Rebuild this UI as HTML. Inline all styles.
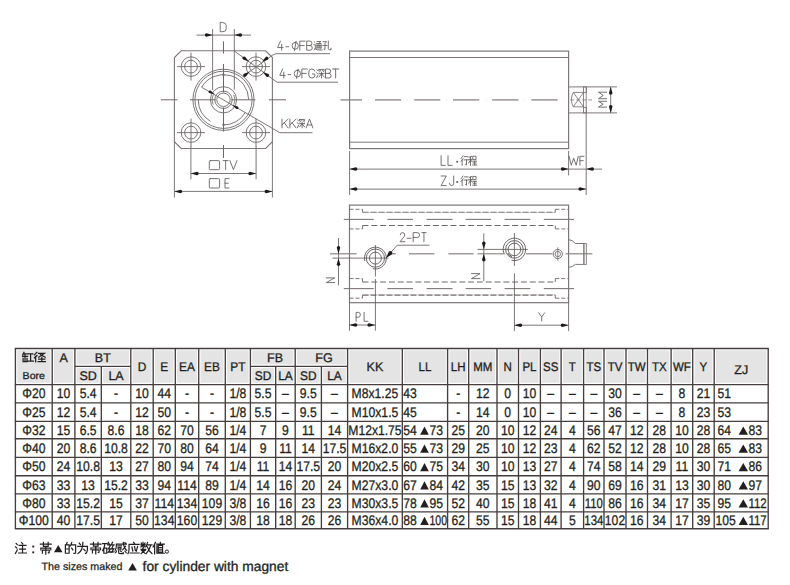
<!DOCTYPE html>
<html><head><meta charset="utf-8">
<style>
html,body{margin:0;padding:0;background:#fff;}
body{width:790px;height:585px;overflow:hidden;position:relative;}
svg{position:absolute;left:0;top:0;}
text{font-family:"Liberation Sans",sans-serif;text-rendering:geometricPrecision;}
</style></head><body>
<svg width="790" height="585" viewBox="0 0 790 585">
<rect width="790" height="585" fill="#fff"/>
<path d="M181.20000000000002,50.8 H265.59999999999997 L272.4,57.599999999999994 V141.7 L265.59999999999997,148.5 H181.20000000000002 L174.4,141.7 V57.599999999999994 Z" fill="none" stroke="#7d7877" stroke-width="1.1"/>
<circle cx="191.0" cy="66.6" r="9.8" fill="none" stroke="#7d7877" stroke-width="1.0"/>
<circle cx="191.0" cy="66.6" r="6.4" fill="none" stroke="#7d7877" stroke-width="1.0"/>
<line x1="177.0" y1="66.6" x2="205.0" y2="66.6" stroke="#6e6968" stroke-width="0.9"/>
<line x1="191.0" y1="52.599999999999994" x2="191.0" y2="80.6" stroke="#6e6968" stroke-width="0.9"/>
<circle cx="191.0" cy="132.6" r="9.8" fill="none" stroke="#7d7877" stroke-width="1.0"/>
<circle cx="191.0" cy="132.6" r="6.4" fill="none" stroke="#7d7877" stroke-width="1.0"/>
<line x1="177.0" y1="132.6" x2="205.0" y2="132.6" stroke="#6e6968" stroke-width="0.9"/>
<line x1="191.0" y1="118.6" x2="191.0" y2="146.6" stroke="#6e6968" stroke-width="0.9"/>
<circle cx="256.0" cy="66.6" r="9.8" fill="none" stroke="#7d7877" stroke-width="1.0"/>
<circle cx="256.0" cy="66.6" r="6.4" fill="none" stroke="#7d7877" stroke-width="1.0"/>
<line x1="242.0" y1="66.6" x2="270.0" y2="66.6" stroke="#6e6968" stroke-width="0.9"/>
<line x1="256.0" y1="52.599999999999994" x2="256.0" y2="80.6" stroke="#6e6968" stroke-width="0.9"/>
<circle cx="256.0" cy="132.6" r="9.8" fill="none" stroke="#7d7877" stroke-width="1.0"/>
<circle cx="256.0" cy="132.6" r="6.4" fill="none" stroke="#7d7877" stroke-width="1.0"/>
<line x1="242.0" y1="132.6" x2="270.0" y2="132.6" stroke="#6e6968" stroke-width="0.9"/>
<line x1="256.0" y1="118.6" x2="256.0" y2="146.6" stroke="#6e6968" stroke-width="0.9"/>
<circle cx="223.5" cy="99.8" r="30.6" fill="none" stroke="#7d7877" stroke-width="1.0"/>
<circle cx="223.5" cy="99.8" r="28.6" fill="none" stroke="#7d7877" stroke-width="1.0"/>
<path d="M201.68,87.20 A25.2,25.2 0 0 1 248.70,99.80" fill="none" stroke="#7d7877" stroke-width="1.0"/>
<path d="M245.32,112.40 A25.2,25.2 0 0 1 223.50,125.00" fill="none" stroke="#7d7877" stroke-width="1.0"/>
<path d="M210.52,121.40 A25.2,25.2 0 0 1 198.30,99.80" fill="none" stroke="#7d7877" stroke-width="1.0"/>
<circle cx="223.5" cy="99.8" r="13.1" fill="none" stroke="#7d7877" stroke-width="1.0"/>
<circle cx="223.5" cy="99.8" r="8.7" fill="none" stroke="#7d7877" stroke-width="1.0"/>
<circle cx="223.5" cy="99.8" r="6.7" fill="none" stroke="#7d7877" stroke-width="1.0"/>
<path d="M213.17,104.62 A11.4,11.4 0 0 1 213.17,94.98" fill="none" stroke="#7d7877" stroke-width="0.9"/>
<path d="M233.83,94.98 A11.4,11.4 0 0 1 233.83,104.62" fill="none" stroke="#7d7877" stroke-width="0.9"/>
<circle cx="223.5" cy="74.8" r="1.2" fill="#6e6968"/>
<circle cx="223.5" cy="124.8" r="1.2" fill="#6e6968"/>
<line x1="161" y1="99.8" x2="177.5" y2="99.8" stroke="#6e6968" stroke-width="1.0"/>
<line x1="190" y1="99.8" x2="215.8" y2="99.8" stroke="#6e6968" stroke-width="1.0"/>
<line x1="231.2" y1="99.8" x2="255.4" y2="99.8" stroke="#6e6968" stroke-width="1.0"/>
<line x1="269" y1="99.8" x2="286" y2="99.8" stroke="#6e6968" stroke-width="1.0"/>
<line x1="223.5" y1="41.3" x2="223.5" y2="53.6" stroke="#6e6968" stroke-width="1.0"/>
<line x1="223.5" y1="64" x2="223.5" y2="92.4" stroke="#6e6968" stroke-width="1.0"/>
<line x1="223.5" y1="107.4" x2="223.5" y2="131.5" stroke="#6e6968" stroke-width="1.0"/>
<line x1="223.5" y1="145" x2="223.5" y2="158" stroke="#6e6968" stroke-width="1.0"/>
<line x1="212.6" y1="29" x2="212.6" y2="90" stroke="#6e6968" stroke-width="0.9"/>
<line x1="234.3" y1="29" x2="234.3" y2="89.6" stroke="#6e6968" stroke-width="0.9"/>
<line x1="196.5" y1="35.1" x2="251" y2="35.1" stroke="#6e6968" stroke-width="0.9"/>
<path d="M212.60,35.10 L206.55,33.35 A1.75,1.75 0 0 0 206.55,36.85 Z" fill="#1e1a1a"/>
<path d="M234.30,35.10 L240.35,36.85 A1.75,1.75 0 0 0 240.35,33.35 Z" fill="#1e1a1a"/>
<g fill="none" stroke="#5f5a59" stroke-width="0.85" stroke-linecap="round" stroke-linejoin="round"><path transform="translate(220.20,22.60) scale(1.2000,1.0111)" d="M0,0 V9 H2.2 Q5,9 5,6.2 V2.8 Q5,0 2.2,0 Z" vector-effect="non-scaling-stroke"/></g>
<line x1="243.0" y1="76.4" x2="272.6" y2="55.1" stroke="#6e6968" stroke-width="0.9"/>
<line x1="272.6" y1="55.1" x2="276.0" y2="53.7" stroke="#6e6968" stroke-width="0.9"/>
<line x1="276.0" y1="53.7" x2="330.0" y2="53.7" stroke="#7d7877" stroke-width="1.0"/>
<path d="M262.00,61.80 L267.69,59.77 A1.70,1.70 0 0 0 265.69,57.02 Z" fill="#1e1a1a"/>
<path d="M249.60,71.80 L243.91,73.83 A1.70,1.70 0 0 0 245.91,76.58 Z" fill="#1e1a1a"/>
<g fill="none" stroke="#5f5a59" stroke-width="0.85" stroke-linecap="round" stroke-linejoin="round"><path transform="translate(277.50,41.10) scale(1.1200,1.0111)" d="M2.6,0 L0,6.4 H5 M3.7,3.2 V9" vector-effect="non-scaling-stroke"/><path transform="translate(285.80,41.10) scale(0.9333,1.0111)" d="M0,5.6 H3" vector-effect="non-scaling-stroke"/><path transform="translate(292.10,41.10) scale(1.1250,1.0111)" d="M2.8,1.2 Q5.6,1.2 5.6,4.6 Q5.6,8 2.8,8 Q0,8 0,4.6 Q0,1.2 2.8,1.2 Z M3.6,0.2 L2.0,9.4" vector-effect="non-scaling-stroke"/><path transform="translate(299.80,41.10) scale(1.1739,1.0111)" d="M4.6,0 H0 V9 M0,4.4 H3.8" vector-effect="non-scaling-stroke"/><path transform="translate(306.70,41.10) scale(1.1200,1.0111)" d="M0,4.4 H3 Q5,4.4 5,6.7 Q5,9 3,9 H0 V0 H2.8 Q4.7,0 4.7,2.2 Q4.7,4.4 2.8,4.4" vector-effect="non-scaling-stroke"/><path transform="translate(313.70,41.10) scale(1.0250,1.0111)" d="M0.4,0.6 L1.4,1.6 M0,3.6 H1.6 V7.4 L0.2,8.8 M1.2,7.8 Q2.6,9 8.2,8.9 M3.2,0.4 H7 L5.6,1.6 M3.2,2.4 V7.6 M3.2,2.4 H7.2 V7.2 L6.6,7.6 M3.2,4.4 H7.2 M3.2,6 H7.2 M5.2,2.4 V7.6" vector-effect="non-scaling-stroke"/><path transform="translate(322.70,41.10) scale(1.0375,1.0111)" d="M0.4,0.6 H3.6 L2.2,2.4 V8.4 L1.2,7.9 M0,4.4 H4.2 M5.4,0 V7.4 Q5.4,8.6 6.8,8.6 H8 V7" vector-effect="non-scaling-stroke"/></g>
<line x1="234.3" y1="51" x2="277.0" y2="82.2" stroke="#6e6968" stroke-width="0.9"/>
<line x1="277.0" y1="82.2" x2="338.0" y2="82.2" stroke="#7d7877" stroke-width="1.0"/>
<path d="M248.80,61.60 L245.11,56.82 A1.70,1.70 0 0 0 243.11,59.57 Z" fill="#1e1a1a"/>
<path d="M262.80,71.90 L266.49,76.68 A1.70,1.70 0 0 0 268.49,73.93 Z" fill="#1e1a1a"/>
<g fill="none" stroke="#5f5a59" stroke-width="0.85" stroke-linecap="round" stroke-linejoin="round"><path transform="translate(279.80,69.00) scale(1.0800,1.0000)" d="M2.6,0 L0,6.4 H5 M3.7,3.2 V9" vector-effect="non-scaling-stroke"/><path transform="translate(287.90,69.00) scale(0.9333,1.0000)" d="M0,5.6 H3" vector-effect="non-scaling-stroke"/><path transform="translate(294.20,69.00) scale(1.1250,1.0000)" d="M2.8,1.2 Q5.6,1.2 5.6,4.6 Q5.6,8 2.8,8 Q0,8 0,4.6 Q0,1.2 2.8,1.2 Z M3.6,0.2 L2.0,9.4" vector-effect="non-scaling-stroke"/><path transform="translate(301.90,69.00) scale(1.1739,1.0000)" d="M4.6,0 H0 V9 M0,4.4 H3.8" vector-effect="non-scaling-stroke"/><path transform="translate(308.80,69.00) scale(1.2000,1.0000)" d="M5,2.2 Q5,0 2.5,0 Q0,0 0,3 V6 Q0,9 2.5,9 Q5,9 5,6.5 V5 H3" vector-effect="non-scaling-stroke"/><path transform="translate(316.50,69.00) scale(0.9500,1.0000)" d="M0.4,0.8 L1.4,1.8 M0,3.6 L1,4.6 M0.2,8.8 L1.6,6 M2.6,0.4 H8 V1.8 M2.6,0.4 V1.8 M4.4,1.4 L3.2,3 M6.4,1.4 L7.6,3 M2.6,4.6 H8 M5.3,3.2 V9 M5.1,5 L2.6,8 M5.5,5 L8,8" vector-effect="non-scaling-stroke"/><path transform="translate(325.50,69.00) scale(1.1200,1.0000)" d="M0,4.4 H3 Q5,4.4 5,6.7 Q5,9 3,9 H0 V0 H2.8 Q4.7,0 4.7,2.2 Q4.7,4.4 2.8,4.4" vector-effect="non-scaling-stroke"/><path transform="translate(332.50,69.00) scale(1.2600,1.0000)" d="M0,0 H5 M2.5,0 V9" vector-effect="non-scaling-stroke"/></g>
<line x1="201.5" y1="87.2" x2="279.9" y2="132.7" stroke="#6e6968" stroke-width="0.9"/>
<line x1="279.9" y1="132.7" x2="312.5" y2="132.7" stroke="#7d7877" stroke-width="1.0"/>
<path d="M214.80,94.60 L210.51,90.62 A1.30,1.30 0 0 0 209.21,92.88 Z" fill="#1e1a1a"/>
<path d="M232.20,104.90 L236.49,108.88 A1.30,1.30 0 0 0 237.79,106.62 Z" fill="#1e1a1a"/>
<g fill="none" stroke="#5f5a59" stroke-width="0.85" stroke-linecap="round" stroke-linejoin="round"><path transform="translate(282.00,119.10) scale(1.2200,0.9778)" d="M0,0 V9 M5,0 L0,6 M1.9,3.8 L5,9" vector-effect="non-scaling-stroke"/><path transform="translate(289.90,119.10) scale(1.2200,0.9778)" d="M0,0 V9 M5,0 L0,6 M1.9,3.8 L5,9" vector-effect="non-scaling-stroke"/><path transform="translate(297.20,119.10) scale(0.9250,0.9778)" d="M0.4,0.8 L1.4,1.8 M0,3.6 L1,4.6 M0.2,8.8 L1.6,6 M2.6,0.4 H8 V1.8 M2.6,0.4 V1.8 M4.4,1.4 L3.2,3 M6.4,1.4 L7.6,3 M2.6,4.6 H8 M5.3,3.2 V9 M5.1,5 L2.6,8 M5.5,5 L8,8" vector-effect="non-scaling-stroke"/><path transform="translate(306.10,119.10) scale(1.3077,0.9778)" d="M0,9 L2.6,0 L5.2,9 M0.9,6 H4.3" vector-effect="non-scaling-stroke"/></g>
<line x1="190.9" y1="146" x2="190.9" y2="179.3" stroke="#6e6968" stroke-width="0.9"/>
<line x1="256.1" y1="146" x2="256.1" y2="179.3" stroke="#6e6968" stroke-width="0.9"/>
<line x1="174.4" y1="141.7" x2="174.4" y2="197.5" stroke="#6e6968" stroke-width="0.9"/>
<line x1="272.4" y1="141.7" x2="272.4" y2="197.5" stroke="#6e6968" stroke-width="0.9"/>
<line x1="190.9" y1="173.5" x2="256.1" y2="173.5" stroke="#6e6968" stroke-width="0.9"/>
<path d="M190.90,173.50 L196.95,175.25 A1.75,1.75 0 0 0 196.95,171.75 Z" fill="#1e1a1a"/>
<path d="M256.10,173.50 L250.05,171.75 A1.75,1.75 0 0 0 250.05,175.25 Z" fill="#1e1a1a"/>
<line x1="174.4" y1="191.4" x2="272.4" y2="191.4" stroke="#6e6968" stroke-width="0.9"/>
<path d="M174.40,191.40 L180.45,193.15 A1.75,1.75 0 0 0 180.45,189.65 Z" fill="#1e1a1a"/>
<path d="M272.40,191.40 L266.35,189.65 A1.75,1.75 0 0 0 266.35,193.15 Z" fill="#1e1a1a"/>
<g fill="none" stroke="#5f5a59" stroke-width="0.85" stroke-linecap="round" stroke-linejoin="round"><path transform="translate(209.30,160.60) scale(1.0300,1.0111)" d="M1,0 H9 Q10,0 10,1 V8 Q10,9 9,9 H1 Q0,9 0,8 V1 Q0,0 1,0 Z" vector-effect="non-scaling-stroke"/><path transform="translate(223.20,160.60) scale(0.9800,1.0111)" d="M0,0 H5 M2.5,0 V9" vector-effect="non-scaling-stroke"/><path transform="translate(229.90,160.60) scale(1.4200,1.0111)" d="M0,0 L2.5,9 L5,0" vector-effect="non-scaling-stroke"/></g>
<g fill="none" stroke="#5f5a59" stroke-width="0.85" stroke-linecap="round" stroke-linejoin="round"><path transform="translate(209.30,178.60) scale(1.0300,1.0444)" d="M1,0 H9 Q10,0 10,1 V8 Q10,9 9,9 H1 Q0,9 0,8 V1 Q0,0 1,0 Z" vector-effect="non-scaling-stroke"/><path transform="translate(225.00,178.60) scale(0.8696,1.0444)" d="M4.6,0 H0 V9 H4.6 M0,4.4 H3.8" vector-effect="non-scaling-stroke"/></g>
<rect x="349.6" y="51.1" width="219.0" height="97.5" fill="none" stroke="#7d7877" stroke-width="1.2"/>
<line x1="349.6" y1="57.5" x2="568.6" y2="57.5" stroke="#7d7877" stroke-width="1.0"/>
<line x1="349.6" y1="142.2" x2="568.6" y2="142.2" stroke="#7d7877" stroke-width="1.0"/>
<line x1="340.4" y1="99.9" x2="362" y2="99.9" stroke="#8a8483" stroke-width="1.3"/>
<line x1="375" y1="99.9" x2="401.1" y2="99.9" stroke="#8a8483" stroke-width="1.3"/>
<line x1="414.2" y1="99.9" x2="440.3" y2="99.9" stroke="#8a8483" stroke-width="1.3"/>
<line x1="453" y1="99.9" x2="479.2" y2="99.9" stroke="#8a8483" stroke-width="1.3"/>
<line x1="492.2" y1="99.9" x2="518.4" y2="99.9" stroke="#8a8483" stroke-width="1.3"/>
<line x1="531.3" y1="99.9" x2="557.6" y2="99.9" stroke="#8a8483" stroke-width="1.3"/>
<rect x="368.4" y="99.4" width="1" height="1" fill="#e6e3e2"/>
<rect x="407.1" y="99.4" width="1" height="1" fill="#e6e3e2"/>
<rect x="446.2" y="99.4" width="1" height="1" fill="#e6e3e2"/>
<rect x="485.5" y="99.4" width="1" height="1" fill="#e6e3e2"/>
<rect x="524.5" y="99.4" width="1" height="1" fill="#e6e3e2"/>
<rect x="563.5" y="99.4" width="1" height="1" fill="#e6e3e2"/>
<line x1="568.6" y1="86.9" x2="617" y2="86.9" stroke="#7d7877" stroke-width="1.0"/>
<line x1="568.6" y1="112.9" x2="617" y2="112.9" stroke="#7d7877" stroke-width="1.0"/>
<rect x="583.5" y="86.9" width="2.9" height="5.5" fill="none" stroke="#7d7877" stroke-width="0.9"/>
<rect x="583.5" y="107.4" width="2.9" height="5.5" fill="none" stroke="#7d7877" stroke-width="0.9"/>
<line x1="586.2" y1="86.9" x2="586.2" y2="112.9" stroke="#7d7877" stroke-width="0.9"/>
<path d="M573.3,92.4 H583.5 V106.8 H573.3 Q569.5,99.6 573.3,92.4 Z M573.3,92.4 L583.5,106.8 M573.3,106.8 L583.5,92.4" fill="none" stroke="#6e6968" stroke-width="0.8"/>
<line x1="570.2" y1="99.9" x2="592" y2="99.9" stroke="#7d7877" stroke-width="0.8" stroke-dasharray="4 2"/>
<line x1="610.7" y1="86.9" x2="610.7" y2="112.9" stroke="#6e6968" stroke-width="0.9"/>
<path d="M610.70,86.90 L608.95,92.95 A1.75,1.75 0 0 0 612.45,92.95 Z" fill="#1e1a1a"/>
<path d="M610.70,112.90 L612.45,106.85 A1.75,1.75 0 0 0 608.95,106.85 Z" fill="#1e1a1a"/>
<g transform="translate(598.5,107.1) rotate(-90)" fill="none" stroke="#5f5a59" stroke-width="0.85" stroke-linecap="round" stroke-linejoin="round"><path transform="translate(0.00,0.00) scale(1.0357,0.9000)" d="M0,9 V0 L2.8,5.2 L5.6,0 V9" vector-effect="non-scaling-stroke"/><path transform="translate(8.40,0.00) scale(1.1607,0.9000)" d="M0,9 V0 L2.8,5.2 L5.6,0 V9" vector-effect="non-scaling-stroke"/></g>
<line x1="349.6" y1="151" x2="349.6" y2="195" stroke="#6e6968" stroke-width="0.9"/>
<line x1="568.6" y1="151" x2="568.6" y2="175.4" stroke="#6e6968" stroke-width="0.9"/>
<line x1="586.2" y1="112.9" x2="586.2" y2="195" stroke="#6e6968" stroke-width="0.9"/>
<line x1="349.6" y1="169.1" x2="602" y2="169.1" stroke="#7d7877" stroke-width="1.0"/>
<path d="M349.60,169.10 L355.65,170.85 A1.75,1.75 0 0 0 355.65,167.35 Z" fill="#1e1a1a"/>
<path d="M568.60,169.10 L562.55,167.35 A1.75,1.75 0 0 0 562.55,170.85 Z" fill="#1e1a1a"/>
<path d="M586.20,169.10 L592.25,170.85 A1.75,1.75 0 0 0 592.25,167.35 Z" fill="#1e1a1a"/>
<line x1="349.6" y1="189.1" x2="586.2" y2="189.1" stroke="#7d7877" stroke-width="1.0"/>
<path d="M349.60,189.10 L355.65,190.85 A1.75,1.75 0 0 0 355.65,187.35 Z" fill="#1e1a1a"/>
<path d="M586.20,189.10 L580.15,187.35 A1.75,1.75 0 0 0 580.15,190.85 Z" fill="#1e1a1a"/>
<g fill="none" stroke="#5f5a59" stroke-width="0.85" stroke-linecap="round" stroke-linejoin="round"><path transform="translate(441.10,155.80) scale(0.8913,1.0667)" d="M0,0 V9 H4.6" vector-effect="non-scaling-stroke"/><path transform="translate(448.00,155.80) scale(0.9130,1.0667)" d="M0,0 V9 H4.6" vector-effect="non-scaling-stroke"/><circle cx="457.20" cy="161.75" r="1.05" fill="#5f5a59" stroke="none"/><path transform="translate(461.00,155.80) scale(0.8875,1.0667)" d="M2.2,0 L0,2.6 M2.4,2.6 L0,5.2 M1.3,4 V9 M3.6,0.8 H8 M3.4,3.8 H8.2 M6.2,3.8 V8.6 L5.2,8.1" vector-effect="non-scaling-stroke"/><path transform="translate(468.80,155.80) scale(0.9500,1.0667)" d="M3.2,0.4 L0.4,1.4 M0,3.4 H3.6 M1.8,1 V9 M1.8,3.6 L0,6.8 M1.9,3.8 L3.6,5.8 M4.6,0.4 H7.6 V3.4 H4.6 Z M4.2,5 H8.2 M6.2,5 V8.6 M4.6,6.8 H7.8 M4,8.6 H8.4" vector-effect="non-scaling-stroke"/></g>
<g fill="none" stroke="#5f5a59" stroke-width="0.85" stroke-linecap="round" stroke-linejoin="round"><path transform="translate(441.10,176.00) scale(1.0400,1.0667)" d="M0,0 H5 L0,9 H5" vector-effect="non-scaling-stroke"/><path transform="translate(449.50,176.00) scale(1.0500,1.0667)" d="M4,0 V6.8 Q4,9 2,9 Q0,9 0,6.8" vector-effect="non-scaling-stroke"/><circle cx="457.20" cy="181.95" r="1.05" fill="#5f5a59" stroke="none"/><path transform="translate(461.00,176.00) scale(0.8875,1.0667)" d="M2.2,0 L0,2.6 M2.4,2.6 L0,5.2 M1.3,4 V9 M3.6,0.8 H8 M3.4,3.8 H8.2 M6.2,3.8 V8.6 L5.2,8.1" vector-effect="non-scaling-stroke"/><path transform="translate(468.80,176.00) scale(0.9500,1.0667)" d="M3.2,0.4 L0.4,1.4 M0,3.4 H3.6 M1.8,1 V9 M1.8,3.6 L0,6.8 M1.9,3.8 L3.6,5.8 M4.6,0.4 H7.6 V3.4 H4.6 Z M4.2,5 H8.2 M6.2,5 V8.6 M4.6,6.8 H7.8 M4,8.6 H8.4" vector-effect="non-scaling-stroke"/></g>
<g fill="none" stroke="#5f5a59" stroke-width="0.85" stroke-linecap="round" stroke-linejoin="round"><path transform="translate(569.10,156.30) scale(1.5333,0.9889)" d="M0,0 L1.4,9 L3,2 L4.6,9 L6,0" vector-effect="non-scaling-stroke"/><path transform="translate(579.90,156.30) scale(0.8913,0.9889)" d="M4.6,0 H0 V9 M0,4.4 H3.8" vector-effect="non-scaling-stroke"/></g>
<rect x="349.5" y="205.1" width="219.10000000000002" height="97.6" fill="none" stroke="#7d7877" stroke-width="1.2"/>
<line x1="349.5" y1="209.3" x2="362.5" y2="209.3" stroke="#6e6968" stroke-width="0.9" stroke-dasharray="4 2"/>
<line x1="349.5" y1="228.9" x2="362.5" y2="228.9" stroke="#6e6968" stroke-width="0.9" stroke-dasharray="4 2"/>
<line x1="555.3" y1="209.3" x2="568.6" y2="209.3" stroke="#6e6968" stroke-width="0.9" stroke-dasharray="4 2"/>
<line x1="555.3" y1="228.9" x2="568.6" y2="228.9" stroke="#6e6968" stroke-width="0.9" stroke-dasharray="4 2"/>
<line x1="362.5" y1="209.3" x2="362.5" y2="212.3" stroke="#6e6968" stroke-width="0.9"/>
<line x1="362.5" y1="225.5" x2="362.5" y2="228.9" stroke="#6e6968" stroke-width="0.9"/>
<line x1="555.3" y1="209.3" x2="555.3" y2="212.3" stroke="#6e6968" stroke-width="0.9"/>
<line x1="555.3" y1="225.5" x2="555.3" y2="228.9" stroke="#6e6968" stroke-width="0.9"/>
<line x1="362.5" y1="212.3" x2="555.3" y2="212.3" stroke="#6e6968" stroke-width="1.1" stroke-dasharray="6 2"/>
<line x1="362.5" y1="225.5" x2="555.3" y2="225.5" stroke="#6e6968" stroke-width="1.1" stroke-dasharray="6 2.8"/>
<line x1="362.5" y1="212.60000000000002" x2="555.3" y2="212.60000000000002" stroke="#a9a4a3" stroke-width="0.5"/>
<line x1="343.8" y1="219.4" x2="373.7" y2="219.4" stroke="#7d7877" stroke-width="1.1"/>
<line x1="387.4" y1="219.4" x2="413" y2="219.4" stroke="#7d7877" stroke-width="1.1"/>
<line x1="426.6" y1="219.4" x2="452.5" y2="219.4" stroke="#7d7877" stroke-width="1.1"/>
<line x1="465.6" y1="219.4" x2="491.1" y2="219.4" stroke="#7d7877" stroke-width="1.1"/>
<line x1="504.6" y1="219.4" x2="530.3" y2="219.4" stroke="#7d7877" stroke-width="1.1"/>
<line x1="543.8" y1="219.4" x2="574" y2="219.4" stroke="#7d7877" stroke-width="1.1"/>
<line x1="349.5" y1="278.6" x2="362.5" y2="278.6" stroke="#6e6968" stroke-width="0.9" stroke-dasharray="4 2"/>
<line x1="349.5" y1="298.2" x2="362.5" y2="298.2" stroke="#6e6968" stroke-width="0.9" stroke-dasharray="4 2"/>
<line x1="555.3" y1="278.6" x2="568.6" y2="278.6" stroke="#6e6968" stroke-width="0.9" stroke-dasharray="4 2"/>
<line x1="555.3" y1="298.2" x2="568.6" y2="298.2" stroke="#6e6968" stroke-width="0.9" stroke-dasharray="4 2"/>
<line x1="362.5" y1="278.6" x2="362.5" y2="282.0" stroke="#6e6968" stroke-width="0.9"/>
<line x1="362.5" y1="295.1" x2="362.5" y2="298.2" stroke="#6e6968" stroke-width="0.9"/>
<line x1="555.3" y1="278.6" x2="555.3" y2="282.0" stroke="#6e6968" stroke-width="0.9"/>
<line x1="555.3" y1="295.1" x2="555.3" y2="298.2" stroke="#6e6968" stroke-width="0.9"/>
<line x1="362.5" y1="282.0" x2="555.3" y2="282.0" stroke="#6e6968" stroke-width="1.1" stroke-dasharray="6 2.8"/>
<line x1="362.5" y1="295.1" x2="555.3" y2="295.1" stroke="#6e6968" stroke-width="1.1" stroke-dasharray="6 2"/>
<line x1="362.5" y1="294.8" x2="555.3" y2="294.8" stroke="#a9a4a3" stroke-width="0.5"/>
<line x1="343.8" y1="288.6" x2="373.7" y2="288.6" stroke="#7d7877" stroke-width="1.1"/>
<line x1="387.4" y1="288.6" x2="413" y2="288.6" stroke="#7d7877" stroke-width="1.1"/>
<line x1="426.6" y1="288.6" x2="452.5" y2="288.6" stroke="#7d7877" stroke-width="1.1"/>
<line x1="465.6" y1="288.6" x2="491.1" y2="288.6" stroke="#7d7877" stroke-width="1.1"/>
<line x1="504.6" y1="288.6" x2="530.3" y2="288.6" stroke="#7d7877" stroke-width="1.1"/>
<line x1="543.8" y1="288.6" x2="574" y2="288.6" stroke="#7d7877" stroke-width="1.1"/>
<line x1="330" y1="253.8" x2="356.6" y2="253.8" stroke="#8a8483" stroke-width="1.2"/>
<line x1="388" y1="253.8" x2="395.8" y2="253.8" stroke="#8a8483" stroke-width="1.2"/>
<line x1="409" y1="253.8" x2="434.4" y2="253.8" stroke="#8a8483" stroke-width="1.2"/>
<line x1="448.4" y1="253.8" x2="473.7" y2="253.8" stroke="#8a8483" stroke-width="1.2"/>
<line x1="498.4" y1="253.8" x2="505" y2="253.8" stroke="#8a8483" stroke-width="1.2"/>
<line x1="526" y1="253.8" x2="552.5" y2="253.8" stroke="#8a8483" stroke-width="1.2"/>
<line x1="565.8" y1="253.8" x2="592.4" y2="253.8" stroke="#8a8483" stroke-width="1.2"/>
<path d="M364.87,260.92 A10.9,10.9 0 1 1 372.76,268.68" fill="none" stroke="#6e6968" stroke-width="1.0"/>
<circle cx="375.4" cy="258.1" r="9.1" fill="none" stroke="#6e6968" stroke-width="1.0"/>
<circle cx="375.4" cy="258.1" r="6.0" fill="none" stroke="#6e6968" stroke-width="1.0"/>
<line x1="332.4" y1="258.1" x2="388.4" y2="258.1" stroke="#5a5453" stroke-width="0.8"/>
<line x1="375.4" y1="245" x2="375.4" y2="276.5" stroke="#5a5453" stroke-width="0.8"/>
<line x1="375.4" y1="279" x2="375.4" y2="330.6" stroke="#5a5453" stroke-width="0.8"/>
<path d="M503.88,253.23 A11.2,11.2 0 1 1 511.50,260.22" fill="none" stroke="#6e6968" stroke-width="1.0"/>
<circle cx="514.4" cy="249.4" r="8.8" fill="none" stroke="#6e6968" stroke-width="1.0"/>
<circle cx="514.4" cy="249.4" r="6.3" fill="none" stroke="#6e6968" stroke-width="1.0"/>
<path d="M511.80,256.54 A7.6,7.6 0 0 1 507.82,253.20" fill="none" stroke="#3a3433" stroke-width="1.0"/>
<line x1="477.5" y1="249.4" x2="527.8" y2="249.4" stroke="#5a5453" stroke-width="0.8"/>
<line x1="477.5" y1="253.8" x2="498.4" y2="253.8" stroke="#6e6968" stroke-width="0.9"/>
<line x1="514.4" y1="233" x2="514.4" y2="265.8" stroke="#5a5453" stroke-width="0.8"/>
<line x1="514.4" y1="273.3" x2="514.4" y2="331.1" stroke="#5a5453" stroke-width="0.8"/>
<circle cx="557.8" cy="254" r="4.6" fill="none" stroke="#7d7877" stroke-width="1.0"/>
<circle cx="557.8" cy="254" r="2.7" fill="none" stroke="#7d7877" stroke-width="0.9"/>
<line x1="557.8" y1="247.3" x2="557.8" y2="260.6" stroke="#6e6968" stroke-width="0.8"/>
<path d="M568.6,239.7 Q572.5,239.7 575.3,243.5 H583.9 V264.4 H575.3 Q572.5,267.3 568.6,267.3" fill="none" stroke="#7d7877" stroke-width="1.0"/>
<rect x="583.9" y="243.5" width="2.4" height="20.9" fill="none" stroke="#7d7877" stroke-width="0.9"/>
<line x1="338.5" y1="238" x2="338.5" y2="285.3" stroke="#6e6968" stroke-width="0.9"/>
<path d="M338.50,253.80 L340.25,247.75 A1.75,1.75 0 0 0 336.75,247.75 Z" fill="#1e1a1a"/>
<path d="M338.50,258.30 L336.75,264.35 A1.75,1.75 0 0 0 340.25,264.35 Z" fill="#1e1a1a"/>
<g transform="translate(326.3,282.6) rotate(-90)" fill="none" stroke="#5f5a59" stroke-width="0.85" stroke-linecap="round" stroke-linejoin="round"><path transform="translate(0.00,0.00) scale(0.9400,0.9333)" d="M0,9 V0 L5,9 V0" vector-effect="non-scaling-stroke"/></g>
<line x1="483.8" y1="233.3" x2="483.8" y2="281.2" stroke="#6e6968" stroke-width="0.9"/>
<path d="M483.80,249.30 L485.55,243.25 A1.75,1.75 0 0 0 482.05,243.25 Z" fill="#1e1a1a"/>
<path d="M483.80,253.80 L482.05,259.85 A1.75,1.75 0 0 0 485.55,259.85 Z" fill="#1e1a1a"/>
<g transform="translate(471.5,278.6) rotate(-90)" fill="none" stroke="#5f5a59" stroke-width="0.85" stroke-linecap="round" stroke-linejoin="round"><path transform="translate(0.00,0.00) scale(1.0000,0.9444)" d="M0,9 V0 L5,9 V0" vector-effect="non-scaling-stroke"/></g>
<line x1="385.8" y1="258.2" x2="397.2" y2="245.2" stroke="#6e6968" stroke-width="0.9"/>
<line x1="397.2" y1="245.2" x2="429.5" y2="245.2" stroke="#7d7877" stroke-width="1.0"/>
<path d="M386.00,258.00 L391.77,254.41 A2.00,2.00 0 0 0 388.75,251.78 Z" fill="#1e1a1a"/>
<g fill="none" stroke="#5f5a59" stroke-width="0.85" stroke-linecap="round" stroke-linejoin="round"><path transform="translate(400.10,232.60) scale(0.9600,1.0111)" d="M0.2,2.2 Q0.4,0 2.5,0 Q4.8,0 4.8,2.4 Q4.8,4 2.8,5.6 L0,9 H5" vector-effect="non-scaling-stroke"/><path transform="translate(407.20,232.60) scale(1.2667,1.0111)" d="M0,5.6 H3" vector-effect="non-scaling-stroke"/><path transform="translate(413.20,232.60) scale(1.2800,1.0111)" d="M0,9 V0 H3 Q5,0 5,2.4 Q5,4.8 3,4.8 H0" vector-effect="non-scaling-stroke"/><path transform="translate(421.80,232.60) scale(0.8600,1.0111)" d="M0,0 H5 M2.5,0 V9" vector-effect="non-scaling-stroke"/></g>
<line x1="349.5" y1="302.7" x2="349.5" y2="330.6" stroke="#6e6968" stroke-width="0.9"/>
<line x1="349.5" y1="325.0" x2="375.2" y2="325.0" stroke="#6e6968" stroke-width="0.9"/>
<path d="M349.50,325.00 L355.55,326.75 A1.75,1.75 0 0 0 355.55,323.25 Z" fill="#1e1a1a"/>
<path d="M375.20,325.00 L369.15,323.25 A1.75,1.75 0 0 0 369.15,326.75 Z" fill="#1e1a1a"/>
<g fill="none" stroke="#5f5a59" stroke-width="0.85" stroke-linecap="round" stroke-linejoin="round"><path transform="translate(356.10,312.40) scale(0.8400,0.9889)" d="M0,9 V0 H3 Q5,0 5,2.4 Q5,4.8 3,4.8 H0" vector-effect="non-scaling-stroke"/><path transform="translate(364.10,312.40) scale(0.8261,0.9889)" d="M0,0 V9 H4.6" vector-effect="non-scaling-stroke"/></g>
<line x1="568.6" y1="302.7" x2="568.6" y2="331.1" stroke="#6e6968" stroke-width="0.9"/>
<line x1="514.4" y1="325.2" x2="568.5" y2="325.2" stroke="#6e6968" stroke-width="0.9"/>
<path d="M514.40,325.20 L520.45,326.95 A1.75,1.75 0 0 0 520.45,323.45 Z" fill="#1e1a1a"/>
<path d="M568.50,325.20 L562.45,323.45 A1.75,1.75 0 0 0 562.45,326.95 Z" fill="#1e1a1a"/>
<g fill="none" stroke="#5f5a59" stroke-width="0.85" stroke-linecap="round" stroke-linejoin="round"><path transform="translate(538.70,312.80) scale(1.2000,0.9111)" d="M0,0 L2.5,4.5 L5,0 M2.5,4.5 V9" vector-effect="non-scaling-stroke"/></g>
<rect x="15.4" y="348.5" width="752.8000000000001" height="36.10000000000002" fill="#e4e4e4"/>
<rect x="13.6" y="348.5" width="3.6" height="36.10000000000002" fill="#fff"/>
<rect x="50.400000000000006" y="348.5" width="3.6" height="36.10000000000002" fill="#fff"/>
<rect x="73.10000000000001" y="348.5" width="3.6" height="36.10000000000002" fill="#fff"/>
<rect x="99.5" y="366.3" width="3.6" height="18.30000000000001" fill="#fff"/>
<rect x="129.0" y="348.5" width="3.6" height="36.10000000000002" fill="#fff"/>
<rect x="151.39999999999998" y="348.5" width="3.6" height="36.10000000000002" fill="#fff"/>
<rect x="173.5" y="348.5" width="3.6" height="36.10000000000002" fill="#fff"/>
<rect x="196.89999999999998" y="348.5" width="3.6" height="36.10000000000002" fill="#fff"/>
<rect x="223.5" y="348.5" width="3.6" height="36.10000000000002" fill="#fff"/>
<rect x="248.6" y="348.5" width="3.6" height="36.10000000000002" fill="#fff"/>
<rect x="273.9" y="366.3" width="3.6" height="18.30000000000001" fill="#fff"/>
<rect x="293.4" y="348.5" width="3.6" height="36.10000000000002" fill="#fff"/>
<rect x="319.59999999999997" y="366.3" width="3.6" height="18.30000000000001" fill="#fff"/>
<rect x="345.8" y="348.5" width="3.6" height="36.10000000000002" fill="#fff"/>
<rect x="400.5" y="348.5" width="3.6" height="36.10000000000002" fill="#fff"/>
<rect x="445.8" y="348.5" width="3.6" height="36.10000000000002" fill="#fff"/>
<rect x="466.9" y="348.5" width="3.6" height="36.10000000000002" fill="#fff"/>
<rect x="495.2" y="348.5" width="3.6" height="36.10000000000002" fill="#fff"/>
<rect x="516.7" y="348.5" width="3.6" height="36.10000000000002" fill="#fff"/>
<rect x="538.6" y="348.5" width="3.6" height="36.10000000000002" fill="#fff"/>
<rect x="559.3000000000001" y="348.5" width="3.6" height="36.10000000000002" fill="#fff"/>
<rect x="581.8000000000001" y="348.5" width="3.6" height="36.10000000000002" fill="#fff"/>
<rect x="602.2" y="348.5" width="3.6" height="36.10000000000002" fill="#fff"/>
<rect x="624.2" y="348.5" width="3.6" height="36.10000000000002" fill="#fff"/>
<rect x="645.7" y="348.5" width="3.6" height="36.10000000000002" fill="#fff"/>
<rect x="669.3000000000001" y="348.5" width="3.6" height="36.10000000000002" fill="#fff"/>
<rect x="690.9000000000001" y="348.5" width="3.6" height="36.10000000000002" fill="#fff"/>
<rect x="712.4000000000001" y="348.5" width="3.6" height="36.10000000000002" fill="#fff"/>
<rect x="766.4000000000001" y="348.5" width="3.6" height="36.10000000000002" fill="#fff"/>
<rect x="15.4" y="346.7" width="752.8000000000001" height="3.6" fill="#fff"/>
<rect x="15.4" y="382.8" width="752.8000000000001" height="3.6" fill="#fff"/>
<rect x="74.9" y="364.5" width="55.900000000000006" height="3.6" fill="#fff"/>
<rect x="250.4" y="364.5" width="97.20000000000002" height="3.6" fill="#fff"/>
<line x1="14.8" y1="348.5" x2="768.8000000000001" y2="348.5" stroke="#463e3c" stroke-width="1.35"/>
<line x1="14.8" y1="384.6" x2="768.8000000000001" y2="384.6" stroke="#463e3c" stroke-width="1.35"/>
<line x1="14.8" y1="402.9" x2="768.8000000000001" y2="402.9" stroke="#463e3c" stroke-width="1.35"/>
<line x1="14.8" y1="421.4" x2="768.8000000000001" y2="421.4" stroke="#463e3c" stroke-width="1.35"/>
<line x1="14.8" y1="438.7" x2="768.8000000000001" y2="438.7" stroke="#463e3c" stroke-width="1.35"/>
<line x1="14.8" y1="457.4" x2="768.8000000000001" y2="457.4" stroke="#463e3c" stroke-width="1.35"/>
<line x1="14.8" y1="475.7" x2="768.8000000000001" y2="475.7" stroke="#463e3c" stroke-width="1.35"/>
<line x1="14.8" y1="493.9" x2="768.8000000000001" y2="493.9" stroke="#463e3c" stroke-width="1.35"/>
<line x1="14.8" y1="511.8" x2="768.8000000000001" y2="511.8" stroke="#463e3c" stroke-width="1.35"/>
<line x1="14.8" y1="528.7" x2="768.8000000000001" y2="528.7" stroke="#463e3c" stroke-width="1.35"/>
<line x1="15.4" y1="348.5" x2="15.4" y2="528.7" stroke="#463e3c" stroke-width="1.35"/>
<line x1="52.2" y1="348.5" x2="52.2" y2="528.7" stroke="#463e3c" stroke-width="1.35"/>
<line x1="74.9" y1="348.5" x2="74.9" y2="528.7" stroke="#463e3c" stroke-width="1.35"/>
<line x1="101.3" y1="366.3" x2="101.3" y2="528.7" stroke="#463e3c" stroke-width="1.35"/>
<line x1="130.8" y1="348.5" x2="130.8" y2="528.7" stroke="#463e3c" stroke-width="1.35"/>
<line x1="153.2" y1="348.5" x2="153.2" y2="528.7" stroke="#463e3c" stroke-width="1.35"/>
<line x1="175.3" y1="348.5" x2="175.3" y2="528.7" stroke="#463e3c" stroke-width="1.35"/>
<line x1="198.7" y1="348.5" x2="198.7" y2="528.7" stroke="#463e3c" stroke-width="1.35"/>
<line x1="225.3" y1="348.5" x2="225.3" y2="528.7" stroke="#463e3c" stroke-width="1.35"/>
<line x1="250.4" y1="348.5" x2="250.4" y2="528.7" stroke="#463e3c" stroke-width="1.35"/>
<line x1="275.7" y1="366.3" x2="275.7" y2="528.7" stroke="#463e3c" stroke-width="1.35"/>
<line x1="295.2" y1="348.5" x2="295.2" y2="528.7" stroke="#463e3c" stroke-width="1.35"/>
<line x1="321.4" y1="366.3" x2="321.4" y2="528.7" stroke="#463e3c" stroke-width="1.35"/>
<line x1="347.6" y1="348.5" x2="347.6" y2="528.7" stroke="#463e3c" stroke-width="1.35"/>
<line x1="402.3" y1="348.5" x2="402.3" y2="528.7" stroke="#463e3c" stroke-width="1.35"/>
<line x1="447.6" y1="348.5" x2="447.6" y2="528.7" stroke="#463e3c" stroke-width="1.35"/>
<line x1="468.7" y1="348.5" x2="468.7" y2="528.7" stroke="#463e3c" stroke-width="1.35"/>
<line x1="497" y1="348.5" x2="497" y2="528.7" stroke="#463e3c" stroke-width="1.35"/>
<line x1="518.5" y1="348.5" x2="518.5" y2="528.7" stroke="#463e3c" stroke-width="1.35"/>
<line x1="540.4" y1="348.5" x2="540.4" y2="528.7" stroke="#463e3c" stroke-width="1.35"/>
<line x1="561.1" y1="348.5" x2="561.1" y2="528.7" stroke="#463e3c" stroke-width="1.35"/>
<line x1="583.6" y1="348.5" x2="583.6" y2="528.7" stroke="#463e3c" stroke-width="1.35"/>
<line x1="604" y1="348.5" x2="604" y2="528.7" stroke="#463e3c" stroke-width="1.35"/>
<line x1="626" y1="348.5" x2="626" y2="528.7" stroke="#463e3c" stroke-width="1.35"/>
<line x1="647.5" y1="348.5" x2="647.5" y2="528.7" stroke="#463e3c" stroke-width="1.35"/>
<line x1="671.1" y1="348.5" x2="671.1" y2="528.7" stroke="#463e3c" stroke-width="1.35"/>
<line x1="692.7" y1="348.5" x2="692.7" y2="528.7" stroke="#463e3c" stroke-width="1.35"/>
<line x1="714.2" y1="348.5" x2="714.2" y2="528.7" stroke="#463e3c" stroke-width="1.35"/>
<line x1="768.2" y1="348.5" x2="768.2" y2="528.7" stroke="#463e3c" stroke-width="1.35"/>
<line x1="74.9" y1="366.3" x2="130.8" y2="366.3" stroke="#463e3c" stroke-width="1.35"/>
<line x1="250.4" y1="366.3" x2="347.6" y2="366.3" stroke="#463e3c" stroke-width="1.35"/>
<text x="63.55" y="361.50" font-size="12.5" text-anchor="middle" fill="#231f20" stroke="#231f20" stroke-width="0.3">A</text>
<text x="102.85" y="362.20" font-size="12.5" text-anchor="middle" fill="#231f20" stroke="#231f20" stroke-width="0.3">BT</text>
<text x="88.10" y="380.30" font-size="12.5" text-anchor="middle" fill="#231f20" stroke="#231f20" stroke-width="0.3">SD</text>
<text x="116.05" y="380.30" font-size="12.5" text-anchor="middle" fill="#231f20" stroke="#231f20" stroke-width="0.3">LA</text>
<text transform="translate(142.00,371.20) scale(0.950,1)" font-size="12.5" text-anchor="middle" fill="#231f20" stroke="#231f20" stroke-width="0.3">D</text>
<text transform="translate(164.25,371.20) scale(0.950,1)" font-size="12.5" text-anchor="middle" fill="#231f20" stroke="#231f20" stroke-width="0.3">E</text>
<text transform="translate(187.00,371.20) scale(0.950,1)" font-size="12.5" text-anchor="middle" fill="#231f20" stroke="#231f20" stroke-width="0.3">EA</text>
<text transform="translate(212.00,371.20) scale(0.950,1)" font-size="12.5" text-anchor="middle" fill="#231f20" stroke="#231f20" stroke-width="0.3">EB</text>
<text transform="translate(237.85,371.20) scale(0.950,1)" font-size="12.5" text-anchor="middle" fill="#231f20" stroke="#231f20" stroke-width="0.3">PT</text>
<text x="275.00" y="362.20" font-size="12.5" text-anchor="middle" fill="#231f20" stroke="#231f20" stroke-width="0.3">FB</text>
<text x="324.00" y="362.20" font-size="12.5" text-anchor="middle" fill="#231f20" stroke="#231f20" stroke-width="0.3">FG</text>
<text transform="translate(263.05,380.30) scale(0.950,1)" font-size="12.5" text-anchor="middle" fill="#231f20" stroke="#231f20" stroke-width="0.3">SD</text>
<text transform="translate(308.30,380.30) scale(0.950,1)" font-size="12.5" text-anchor="middle" fill="#231f20" stroke="#231f20" stroke-width="0.3">SD</text>
<text transform="translate(285.45,380.30) scale(0.950,1)" font-size="12.5" text-anchor="middle" fill="#231f20" stroke="#231f20" stroke-width="0.3">LA</text>
<text transform="translate(334.50,380.30) scale(0.950,1)" font-size="12.5" text-anchor="middle" fill="#231f20" stroke="#231f20" stroke-width="0.3">LA</text>
<text x="374.95" y="371.20" font-size="12.5" text-anchor="middle" fill="#231f20" stroke="#231f20" stroke-width="0.3">KK</text>
<text transform="translate(424.95,371.20) scale(0.920,1)" font-size="12.5" text-anchor="middle" fill="#231f20" stroke="#231f20" stroke-width="0.3">LL</text>
<text transform="translate(458.15,371.20) scale(0.920,1)" font-size="12.5" text-anchor="middle" fill="#231f20" stroke="#231f20" stroke-width="0.3">LH</text>
<text transform="translate(482.85,371.20) scale(0.920,1)" font-size="12.5" text-anchor="middle" fill="#231f20" stroke="#231f20" stroke-width="0.3">MM</text>
<text transform="translate(507.75,371.20) scale(0.920,1)" font-size="12.5" text-anchor="middle" fill="#231f20" stroke="#231f20" stroke-width="0.3">N</text>
<text transform="translate(529.45,371.20) scale(0.920,1)" font-size="12.5" text-anchor="middle" fill="#231f20" stroke="#231f20" stroke-width="0.3">PL</text>
<text transform="translate(550.75,371.20) scale(0.920,1)" font-size="12.5" text-anchor="middle" fill="#231f20" stroke="#231f20" stroke-width="0.3">SS</text>
<text transform="translate(572.35,371.20) scale(0.920,1)" font-size="12.5" text-anchor="middle" fill="#231f20" stroke="#231f20" stroke-width="0.3">T</text>
<text transform="translate(593.80,371.20) scale(0.920,1)" font-size="12.5" text-anchor="middle" fill="#231f20" stroke="#231f20" stroke-width="0.3">TS</text>
<text transform="translate(615.00,371.20) scale(0.920,1)" font-size="12.5" text-anchor="middle" fill="#231f20" stroke="#231f20" stroke-width="0.3">TV</text>
<text transform="translate(636.75,371.20) scale(0.920,1)" font-size="12.5" text-anchor="middle" fill="#231f20" stroke="#231f20" stroke-width="0.3">TW</text>
<text transform="translate(659.30,371.20) scale(0.920,1)" font-size="12.5" text-anchor="middle" fill="#231f20" stroke="#231f20" stroke-width="0.3">TX</text>
<text transform="translate(681.90,371.20) scale(0.920,1)" font-size="12.5" text-anchor="middle" fill="#231f20" stroke="#231f20" stroke-width="0.3">WF</text>
<text transform="translate(703.45,371.20) scale(0.920,1)" font-size="12.5" text-anchor="middle" fill="#231f20" stroke="#231f20" stroke-width="0.3">Y</text>
<text x="741.20" y="373.90" font-size="12.5" text-anchor="middle" fill="#231f20" stroke="#231f20" stroke-width="0.3">ZJ</text>
<text transform="translate(33.80,378.60) scale(1.060,1)" font-size="10.0" text-anchor="middle" fill="#231f20" stroke="#231f20" stroke-width="0.3">Bore</text>
<text transform="translate(33.80,398.45) scale(0.869,1)" font-size="14" text-anchor="middle" fill="#231f20" stroke="#231f20" stroke-width="0.3">Φ20</text>
<text transform="translate(63.55,398.45) scale(0.869,1)" font-size="14" text-anchor="middle" fill="#231f20" stroke="#231f20" stroke-width="0.3">10</text>
<text transform="translate(88.10,398.45) scale(0.869,1)" font-size="14" text-anchor="middle" fill="#231f20" stroke="#231f20" stroke-width="0.3">5.4</text>
<text transform="translate(116.05,398.45) scale(0.869,1)" font-size="14" text-anchor="middle" fill="#231f20" stroke="#231f20" stroke-width="0.3">-</text>
<text transform="translate(142.00,398.45) scale(0.869,1)" font-size="14" text-anchor="middle" fill="#231f20" stroke="#231f20" stroke-width="0.3">10</text>
<text transform="translate(164.25,398.45) scale(0.869,1)" font-size="14" text-anchor="middle" fill="#231f20" stroke="#231f20" stroke-width="0.3">44</text>
<text transform="translate(187.00,398.45) scale(0.869,1)" font-size="14" text-anchor="middle" fill="#231f20" stroke="#231f20" stroke-width="0.3">-</text>
<text transform="translate(212.00,398.45) scale(0.869,1)" font-size="14" text-anchor="middle" fill="#231f20" stroke="#231f20" stroke-width="0.3">-</text>
<text transform="translate(237.85,398.45) scale(0.869,1)" font-size="14" text-anchor="middle" fill="#231f20" stroke="#231f20" stroke-width="0.3">1/8</text>
<text transform="translate(263.05,398.45) scale(0.869,1)" font-size="14" text-anchor="middle" fill="#231f20" stroke="#231f20" stroke-width="0.3">5.5</text>
<text transform="translate(285.45,398.45) scale(0.869,1)" font-size="14" text-anchor="middle" fill="#231f20" stroke="#231f20" stroke-width="0.3">–</text>
<text transform="translate(308.30,398.45) scale(0.869,1)" font-size="14" text-anchor="middle" fill="#231f20" stroke="#231f20" stroke-width="0.3">9.5</text>
<text transform="translate(334.50,398.45) scale(0.869,1)" font-size="14" text-anchor="middle" fill="#231f20" stroke="#231f20" stroke-width="0.3">–</text>
<text transform="translate(374.95,398.45) scale(0.869,1)" font-size="14" text-anchor="middle" fill="#231f20" stroke="#231f20" stroke-width="0.3">M8x1.25</text>
<text transform="translate(403.30,398.45) scale(0.869,1)" font-size="14" text-anchor="start" fill="#231f20" stroke="#231f20" stroke-width="0.3">43</text>
<text transform="translate(458.15,398.45) scale(0.869,1)" font-size="14" text-anchor="middle" fill="#231f20" stroke="#231f20" stroke-width="0.3">-</text>
<text transform="translate(482.85,398.45) scale(0.869,1)" font-size="14" text-anchor="middle" fill="#231f20" stroke="#231f20" stroke-width="0.3">12</text>
<text transform="translate(507.75,398.45) scale(0.869,1)" font-size="14" text-anchor="middle" fill="#231f20" stroke="#231f20" stroke-width="0.3">0</text>
<text transform="translate(529.45,398.45) scale(0.869,1)" font-size="14" text-anchor="middle" fill="#231f20" stroke="#231f20" stroke-width="0.3">10</text>
<text transform="translate(550.75,398.45) scale(0.869,1)" font-size="14" text-anchor="middle" fill="#231f20" stroke="#231f20" stroke-width="0.3">–</text>
<text transform="translate(572.35,398.45) scale(0.869,1)" font-size="14" text-anchor="middle" fill="#231f20" stroke="#231f20" stroke-width="0.3">–</text>
<text transform="translate(593.80,398.45) scale(0.869,1)" font-size="14" text-anchor="middle" fill="#231f20" stroke="#231f20" stroke-width="0.3">–</text>
<text transform="translate(615.00,398.45) scale(0.869,1)" font-size="14" text-anchor="middle" fill="#231f20" stroke="#231f20" stroke-width="0.3">30</text>
<text transform="translate(636.75,398.45) scale(0.869,1)" font-size="14" text-anchor="middle" fill="#231f20" stroke="#231f20" stroke-width="0.3">–</text>
<text transform="translate(659.30,398.45) scale(0.869,1)" font-size="14" text-anchor="middle" fill="#231f20" stroke="#231f20" stroke-width="0.3">–</text>
<text transform="translate(681.90,398.45) scale(0.869,1)" font-size="14" text-anchor="middle" fill="#231f20" stroke="#231f20" stroke-width="0.3">8</text>
<text transform="translate(703.45,398.45) scale(0.869,1)" font-size="14" text-anchor="middle" fill="#231f20" stroke="#231f20" stroke-width="0.3">21</text>
<text transform="translate(717.60,398.45) scale(0.869,1)" font-size="14" text-anchor="start" fill="#231f20" stroke="#231f20" stroke-width="0.3">51</text>
<text transform="translate(33.80,416.85) scale(0.869,1)" font-size="14" text-anchor="middle" fill="#231f20" stroke="#231f20" stroke-width="0.3">Φ25</text>
<text transform="translate(63.55,416.85) scale(0.869,1)" font-size="14" text-anchor="middle" fill="#231f20" stroke="#231f20" stroke-width="0.3">12</text>
<text transform="translate(88.10,416.85) scale(0.869,1)" font-size="14" text-anchor="middle" fill="#231f20" stroke="#231f20" stroke-width="0.3">5.4</text>
<text transform="translate(116.05,416.85) scale(0.869,1)" font-size="14" text-anchor="middle" fill="#231f20" stroke="#231f20" stroke-width="0.3">-</text>
<text transform="translate(142.00,416.85) scale(0.869,1)" font-size="14" text-anchor="middle" fill="#231f20" stroke="#231f20" stroke-width="0.3">12</text>
<text transform="translate(164.25,416.85) scale(0.869,1)" font-size="14" text-anchor="middle" fill="#231f20" stroke="#231f20" stroke-width="0.3">50</text>
<text transform="translate(187.00,416.85) scale(0.869,1)" font-size="14" text-anchor="middle" fill="#231f20" stroke="#231f20" stroke-width="0.3">-</text>
<text transform="translate(212.00,416.85) scale(0.869,1)" font-size="14" text-anchor="middle" fill="#231f20" stroke="#231f20" stroke-width="0.3">-</text>
<text transform="translate(237.85,416.85) scale(0.869,1)" font-size="14" text-anchor="middle" fill="#231f20" stroke="#231f20" stroke-width="0.3">1/8</text>
<text transform="translate(263.05,416.85) scale(0.869,1)" font-size="14" text-anchor="middle" fill="#231f20" stroke="#231f20" stroke-width="0.3">5.5</text>
<text transform="translate(285.45,416.85) scale(0.869,1)" font-size="14" text-anchor="middle" fill="#231f20" stroke="#231f20" stroke-width="0.3">–</text>
<text transform="translate(308.30,416.85) scale(0.869,1)" font-size="14" text-anchor="middle" fill="#231f20" stroke="#231f20" stroke-width="0.3">9.5</text>
<text transform="translate(334.50,416.85) scale(0.869,1)" font-size="14" text-anchor="middle" fill="#231f20" stroke="#231f20" stroke-width="0.3">–</text>
<text transform="translate(374.95,416.85) scale(0.869,1)" font-size="14" text-anchor="middle" fill="#231f20" stroke="#231f20" stroke-width="0.3">M10x1.5</text>
<text transform="translate(403.30,416.85) scale(0.869,1)" font-size="14" text-anchor="start" fill="#231f20" stroke="#231f20" stroke-width="0.3">45</text>
<text transform="translate(458.15,416.85) scale(0.869,1)" font-size="14" text-anchor="middle" fill="#231f20" stroke="#231f20" stroke-width="0.3">-</text>
<text transform="translate(482.85,416.85) scale(0.869,1)" font-size="14" text-anchor="middle" fill="#231f20" stroke="#231f20" stroke-width="0.3">14</text>
<text transform="translate(507.75,416.85) scale(0.869,1)" font-size="14" text-anchor="middle" fill="#231f20" stroke="#231f20" stroke-width="0.3">0</text>
<text transform="translate(529.45,416.85) scale(0.869,1)" font-size="14" text-anchor="middle" fill="#231f20" stroke="#231f20" stroke-width="0.3">10</text>
<text transform="translate(550.75,416.85) scale(0.869,1)" font-size="14" text-anchor="middle" fill="#231f20" stroke="#231f20" stroke-width="0.3">–</text>
<text transform="translate(572.35,416.85) scale(0.869,1)" font-size="14" text-anchor="middle" fill="#231f20" stroke="#231f20" stroke-width="0.3">–</text>
<text transform="translate(593.80,416.85) scale(0.869,1)" font-size="14" text-anchor="middle" fill="#231f20" stroke="#231f20" stroke-width="0.3">–</text>
<text transform="translate(615.00,416.85) scale(0.869,1)" font-size="14" text-anchor="middle" fill="#231f20" stroke="#231f20" stroke-width="0.3">36</text>
<text transform="translate(636.75,416.85) scale(0.869,1)" font-size="14" text-anchor="middle" fill="#231f20" stroke="#231f20" stroke-width="0.3">–</text>
<text transform="translate(659.30,416.85) scale(0.869,1)" font-size="14" text-anchor="middle" fill="#231f20" stroke="#231f20" stroke-width="0.3">–</text>
<text transform="translate(681.90,416.85) scale(0.869,1)" font-size="14" text-anchor="middle" fill="#231f20" stroke="#231f20" stroke-width="0.3">8</text>
<text transform="translate(703.45,416.85) scale(0.869,1)" font-size="14" text-anchor="middle" fill="#231f20" stroke="#231f20" stroke-width="0.3">23</text>
<text transform="translate(717.60,416.85) scale(0.869,1)" font-size="14" text-anchor="start" fill="#231f20" stroke="#231f20" stroke-width="0.3">53</text>
<text transform="translate(33.80,434.75) scale(0.869,1)" font-size="14" text-anchor="middle" fill="#231f20" stroke="#231f20" stroke-width="0.3">Φ32</text>
<text transform="translate(63.55,434.75) scale(0.869,1)" font-size="14" text-anchor="middle" fill="#231f20" stroke="#231f20" stroke-width="0.3">15</text>
<text transform="translate(88.10,434.75) scale(0.869,1)" font-size="14" text-anchor="middle" fill="#231f20" stroke="#231f20" stroke-width="0.3">6.5</text>
<text transform="translate(116.05,434.75) scale(0.869,1)" font-size="14" text-anchor="middle" fill="#231f20" stroke="#231f20" stroke-width="0.3">8.6</text>
<text transform="translate(142.00,434.75) scale(0.869,1)" font-size="14" text-anchor="middle" fill="#231f20" stroke="#231f20" stroke-width="0.3">18</text>
<text transform="translate(164.25,434.75) scale(0.869,1)" font-size="14" text-anchor="middle" fill="#231f20" stroke="#231f20" stroke-width="0.3">62</text>
<text transform="translate(187.00,434.75) scale(0.869,1)" font-size="14" text-anchor="middle" fill="#231f20" stroke="#231f20" stroke-width="0.3">70</text>
<text transform="translate(212.00,434.75) scale(0.869,1)" font-size="14" text-anchor="middle" fill="#231f20" stroke="#231f20" stroke-width="0.3">56</text>
<text transform="translate(237.85,434.75) scale(0.869,1)" font-size="14" text-anchor="middle" fill="#231f20" stroke="#231f20" stroke-width="0.3">1/4</text>
<text transform="translate(263.05,434.75) scale(0.869,1)" font-size="14" text-anchor="middle" fill="#231f20" stroke="#231f20" stroke-width="0.3">7</text>
<text transform="translate(285.45,434.75) scale(0.869,1)" font-size="14" text-anchor="middle" fill="#231f20" stroke="#231f20" stroke-width="0.3">9</text>
<text transform="translate(308.30,434.75) scale(0.869,1)" font-size="14" text-anchor="middle" fill="#231f20" stroke="#231f20" stroke-width="0.3">11</text>
<text transform="translate(334.50,434.75) scale(0.869,1)" font-size="14" text-anchor="middle" fill="#231f20" stroke="#231f20" stroke-width="0.3">14</text>
<text transform="translate(374.95,434.75) scale(0.867,1)" font-size="14" text-anchor="middle" fill="#231f20" stroke="#231f20" stroke-width="0.3">M12x1.75</text>
<text transform="translate(403.30,434.75) scale(0.869,1)" font-size="14" text-anchor="start" fill="#231f20" stroke="#231f20" stroke-width="0.3">54</text>
<path d="M420.20,434.75 L428.80,434.75 L424.50,426.45 Z" fill="#231f20"/>
<text transform="translate(429.40,434.75) scale(0.869,1)" font-size="14" text-anchor="start" fill="#231f20" stroke="#231f20" stroke-width="0.3">73</text>
<text transform="translate(458.15,434.75) scale(0.869,1)" font-size="14" text-anchor="middle" fill="#231f20" stroke="#231f20" stroke-width="0.3">25</text>
<text transform="translate(482.85,434.75) scale(0.869,1)" font-size="14" text-anchor="middle" fill="#231f20" stroke="#231f20" stroke-width="0.3">20</text>
<text transform="translate(507.75,434.75) scale(0.869,1)" font-size="14" text-anchor="middle" fill="#231f20" stroke="#231f20" stroke-width="0.3">10</text>
<text transform="translate(529.45,434.75) scale(0.869,1)" font-size="14" text-anchor="middle" fill="#231f20" stroke="#231f20" stroke-width="0.3">12</text>
<text transform="translate(550.75,434.75) scale(0.869,1)" font-size="14" text-anchor="middle" fill="#231f20" stroke="#231f20" stroke-width="0.3">24</text>
<text transform="translate(572.35,434.75) scale(0.869,1)" font-size="14" text-anchor="middle" fill="#231f20" stroke="#231f20" stroke-width="0.3">4</text>
<text transform="translate(593.80,434.75) scale(0.869,1)" font-size="14" text-anchor="middle" fill="#231f20" stroke="#231f20" stroke-width="0.3">56</text>
<text transform="translate(615.00,434.75) scale(0.869,1)" font-size="14" text-anchor="middle" fill="#231f20" stroke="#231f20" stroke-width="0.3">47</text>
<text transform="translate(636.75,434.75) scale(0.869,1)" font-size="14" text-anchor="middle" fill="#231f20" stroke="#231f20" stroke-width="0.3">12</text>
<text transform="translate(659.30,434.75) scale(0.869,1)" font-size="14" text-anchor="middle" fill="#231f20" stroke="#231f20" stroke-width="0.3">28</text>
<text transform="translate(681.90,434.75) scale(0.869,1)" font-size="14" text-anchor="middle" fill="#231f20" stroke="#231f20" stroke-width="0.3">10</text>
<text transform="translate(703.45,434.75) scale(0.869,1)" font-size="14" text-anchor="middle" fill="#231f20" stroke="#231f20" stroke-width="0.3">28</text>
<text transform="translate(717.60,434.75) scale(0.869,1)" font-size="14" text-anchor="start" fill="#231f20" stroke="#231f20" stroke-width="0.3">64</text>
<path d="M738.60,434.75 L748.00,434.75 L743.30,426.45 Z" fill="#231f20"/>
<text transform="translate(748.40,434.75) scale(0.869,1)" font-size="14" text-anchor="start" fill="#231f20" stroke="#231f20" stroke-width="0.3">83</text>
<text transform="translate(33.80,452.75) scale(0.869,1)" font-size="14" text-anchor="middle" fill="#231f20" stroke="#231f20" stroke-width="0.3">Φ40</text>
<text transform="translate(63.55,452.75) scale(0.869,1)" font-size="14" text-anchor="middle" fill="#231f20" stroke="#231f20" stroke-width="0.3">20</text>
<text transform="translate(88.10,452.75) scale(0.869,1)" font-size="14" text-anchor="middle" fill="#231f20" stroke="#231f20" stroke-width="0.3">8.6</text>
<text transform="translate(116.05,452.75) scale(0.869,1)" font-size="14" text-anchor="middle" fill="#231f20" stroke="#231f20" stroke-width="0.3">10.8</text>
<text transform="translate(142.00,452.75) scale(0.869,1)" font-size="14" text-anchor="middle" fill="#231f20" stroke="#231f20" stroke-width="0.3">22</text>
<text transform="translate(164.25,452.75) scale(0.869,1)" font-size="14" text-anchor="middle" fill="#231f20" stroke="#231f20" stroke-width="0.3">70</text>
<text transform="translate(187.00,452.75) scale(0.869,1)" font-size="14" text-anchor="middle" fill="#231f20" stroke="#231f20" stroke-width="0.3">80</text>
<text transform="translate(212.00,452.75) scale(0.869,1)" font-size="14" text-anchor="middle" fill="#231f20" stroke="#231f20" stroke-width="0.3">64</text>
<text transform="translate(237.85,452.75) scale(0.869,1)" font-size="14" text-anchor="middle" fill="#231f20" stroke="#231f20" stroke-width="0.3">1/4</text>
<text transform="translate(263.05,452.75) scale(0.869,1)" font-size="14" text-anchor="middle" fill="#231f20" stroke="#231f20" stroke-width="0.3">9</text>
<text transform="translate(285.45,452.75) scale(0.869,1)" font-size="14" text-anchor="middle" fill="#231f20" stroke="#231f20" stroke-width="0.3">11</text>
<text transform="translate(308.30,452.75) scale(0.869,1)" font-size="14" text-anchor="middle" fill="#231f20" stroke="#231f20" stroke-width="0.3">14</text>
<text transform="translate(334.50,452.75) scale(0.869,1)" font-size="14" text-anchor="middle" fill="#231f20" stroke="#231f20" stroke-width="0.3">17.5</text>
<text transform="translate(374.95,452.75) scale(0.869,1)" font-size="14" text-anchor="middle" fill="#231f20" stroke="#231f20" stroke-width="0.3">M16x2.0</text>
<text transform="translate(403.30,452.75) scale(0.869,1)" font-size="14" text-anchor="start" fill="#231f20" stroke="#231f20" stroke-width="0.3">55</text>
<path d="M420.20,452.75 L428.80,452.75 L424.50,444.45 Z" fill="#231f20"/>
<text transform="translate(429.40,452.75) scale(0.869,1)" font-size="14" text-anchor="start" fill="#231f20" stroke="#231f20" stroke-width="0.3">73</text>
<text transform="translate(458.15,452.75) scale(0.869,1)" font-size="14" text-anchor="middle" fill="#231f20" stroke="#231f20" stroke-width="0.3">29</text>
<text transform="translate(482.85,452.75) scale(0.869,1)" font-size="14" text-anchor="middle" fill="#231f20" stroke="#231f20" stroke-width="0.3">25</text>
<text transform="translate(507.75,452.75) scale(0.869,1)" font-size="14" text-anchor="middle" fill="#231f20" stroke="#231f20" stroke-width="0.3">10</text>
<text transform="translate(529.45,452.75) scale(0.869,1)" font-size="14" text-anchor="middle" fill="#231f20" stroke="#231f20" stroke-width="0.3">12</text>
<text transform="translate(550.75,452.75) scale(0.869,1)" font-size="14" text-anchor="middle" fill="#231f20" stroke="#231f20" stroke-width="0.3">23</text>
<text transform="translate(572.35,452.75) scale(0.869,1)" font-size="14" text-anchor="middle" fill="#231f20" stroke="#231f20" stroke-width="0.3">4</text>
<text transform="translate(593.80,452.75) scale(0.869,1)" font-size="14" text-anchor="middle" fill="#231f20" stroke="#231f20" stroke-width="0.3">62</text>
<text transform="translate(615.00,452.75) scale(0.869,1)" font-size="14" text-anchor="middle" fill="#231f20" stroke="#231f20" stroke-width="0.3">52</text>
<text transform="translate(636.75,452.75) scale(0.869,1)" font-size="14" text-anchor="middle" fill="#231f20" stroke="#231f20" stroke-width="0.3">12</text>
<text transform="translate(659.30,452.75) scale(0.869,1)" font-size="14" text-anchor="middle" fill="#231f20" stroke="#231f20" stroke-width="0.3">28</text>
<text transform="translate(681.90,452.75) scale(0.869,1)" font-size="14" text-anchor="middle" fill="#231f20" stroke="#231f20" stroke-width="0.3">10</text>
<text transform="translate(703.45,452.75) scale(0.869,1)" font-size="14" text-anchor="middle" fill="#231f20" stroke="#231f20" stroke-width="0.3">28</text>
<text transform="translate(717.60,452.75) scale(0.869,1)" font-size="14" text-anchor="start" fill="#231f20" stroke="#231f20" stroke-width="0.3">65</text>
<path d="M738.60,452.75 L748.00,452.75 L743.30,444.45 Z" fill="#231f20"/>
<text transform="translate(748.40,452.75) scale(0.869,1)" font-size="14" text-anchor="start" fill="#231f20" stroke="#231f20" stroke-width="0.3">83</text>
<text transform="translate(33.80,471.25) scale(0.869,1)" font-size="14" text-anchor="middle" fill="#231f20" stroke="#231f20" stroke-width="0.3">Φ50</text>
<text transform="translate(63.55,471.25) scale(0.869,1)" font-size="14" text-anchor="middle" fill="#231f20" stroke="#231f20" stroke-width="0.3">24</text>
<text transform="translate(88.10,471.25) scale(0.869,1)" font-size="14" text-anchor="middle" fill="#231f20" stroke="#231f20" stroke-width="0.3">10.8</text>
<text transform="translate(116.05,471.25) scale(0.869,1)" font-size="14" text-anchor="middle" fill="#231f20" stroke="#231f20" stroke-width="0.3">13</text>
<text transform="translate(142.00,471.25) scale(0.869,1)" font-size="14" text-anchor="middle" fill="#231f20" stroke="#231f20" stroke-width="0.3">27</text>
<text transform="translate(164.25,471.25) scale(0.869,1)" font-size="14" text-anchor="middle" fill="#231f20" stroke="#231f20" stroke-width="0.3">80</text>
<text transform="translate(187.00,471.25) scale(0.869,1)" font-size="14" text-anchor="middle" fill="#231f20" stroke="#231f20" stroke-width="0.3">94</text>
<text transform="translate(212.00,471.25) scale(0.869,1)" font-size="14" text-anchor="middle" fill="#231f20" stroke="#231f20" stroke-width="0.3">74</text>
<text transform="translate(237.85,471.25) scale(0.869,1)" font-size="14" text-anchor="middle" fill="#231f20" stroke="#231f20" stroke-width="0.3">1/4</text>
<text transform="translate(263.05,471.25) scale(0.869,1)" font-size="14" text-anchor="middle" fill="#231f20" stroke="#231f20" stroke-width="0.3">11</text>
<text transform="translate(285.45,471.25) scale(0.869,1)" font-size="14" text-anchor="middle" fill="#231f20" stroke="#231f20" stroke-width="0.3">14</text>
<text transform="translate(308.30,471.25) scale(0.869,1)" font-size="14" text-anchor="middle" fill="#231f20" stroke="#231f20" stroke-width="0.3">17.5</text>
<text transform="translate(334.50,471.25) scale(0.869,1)" font-size="14" text-anchor="middle" fill="#231f20" stroke="#231f20" stroke-width="0.3">20</text>
<text transform="translate(374.95,471.25) scale(0.869,1)" font-size="14" text-anchor="middle" fill="#231f20" stroke="#231f20" stroke-width="0.3">M20x2.5</text>
<text transform="translate(403.30,471.25) scale(0.869,1)" font-size="14" text-anchor="start" fill="#231f20" stroke="#231f20" stroke-width="0.3">60</text>
<path d="M420.20,471.25 L428.80,471.25 L424.50,462.95 Z" fill="#231f20"/>
<text transform="translate(429.40,471.25) scale(0.869,1)" font-size="14" text-anchor="start" fill="#231f20" stroke="#231f20" stroke-width="0.3">75</text>
<text transform="translate(458.15,471.25) scale(0.869,1)" font-size="14" text-anchor="middle" fill="#231f20" stroke="#231f20" stroke-width="0.3">34</text>
<text transform="translate(482.85,471.25) scale(0.869,1)" font-size="14" text-anchor="middle" fill="#231f20" stroke="#231f20" stroke-width="0.3">30</text>
<text transform="translate(507.75,471.25) scale(0.869,1)" font-size="14" text-anchor="middle" fill="#231f20" stroke="#231f20" stroke-width="0.3">10</text>
<text transform="translate(529.45,471.25) scale(0.869,1)" font-size="14" text-anchor="middle" fill="#231f20" stroke="#231f20" stroke-width="0.3">13</text>
<text transform="translate(550.75,471.25) scale(0.869,1)" font-size="14" text-anchor="middle" fill="#231f20" stroke="#231f20" stroke-width="0.3">27</text>
<text transform="translate(572.35,471.25) scale(0.869,1)" font-size="14" text-anchor="middle" fill="#231f20" stroke="#231f20" stroke-width="0.3">4</text>
<text transform="translate(593.80,471.25) scale(0.869,1)" font-size="14" text-anchor="middle" fill="#231f20" stroke="#231f20" stroke-width="0.3">74</text>
<text transform="translate(615.00,471.25) scale(0.869,1)" font-size="14" text-anchor="middle" fill="#231f20" stroke="#231f20" stroke-width="0.3">58</text>
<text transform="translate(636.75,471.25) scale(0.869,1)" font-size="14" text-anchor="middle" fill="#231f20" stroke="#231f20" stroke-width="0.3">14</text>
<text transform="translate(659.30,471.25) scale(0.869,1)" font-size="14" text-anchor="middle" fill="#231f20" stroke="#231f20" stroke-width="0.3">29</text>
<text transform="translate(681.90,471.25) scale(0.869,1)" font-size="14" text-anchor="middle" fill="#231f20" stroke="#231f20" stroke-width="0.3">11</text>
<text transform="translate(703.45,471.25) scale(0.869,1)" font-size="14" text-anchor="middle" fill="#231f20" stroke="#231f20" stroke-width="0.3">30</text>
<text transform="translate(717.60,471.25) scale(0.869,1)" font-size="14" text-anchor="start" fill="#231f20" stroke="#231f20" stroke-width="0.3">71</text>
<path d="M738.60,471.25 L748.00,471.25 L743.30,462.95 Z" fill="#231f20"/>
<text transform="translate(748.40,471.25) scale(0.869,1)" font-size="14" text-anchor="start" fill="#231f20" stroke="#231f20" stroke-width="0.3">86</text>
<text transform="translate(33.80,489.50) scale(0.869,1)" font-size="14" text-anchor="middle" fill="#231f20" stroke="#231f20" stroke-width="0.3">Φ63</text>
<text transform="translate(63.55,489.50) scale(0.869,1)" font-size="14" text-anchor="middle" fill="#231f20" stroke="#231f20" stroke-width="0.3">33</text>
<text transform="translate(88.10,489.50) scale(0.869,1)" font-size="14" text-anchor="middle" fill="#231f20" stroke="#231f20" stroke-width="0.3">13</text>
<text transform="translate(116.05,489.50) scale(0.869,1)" font-size="14" text-anchor="middle" fill="#231f20" stroke="#231f20" stroke-width="0.3">15.2</text>
<text transform="translate(142.00,489.50) scale(0.869,1)" font-size="14" text-anchor="middle" fill="#231f20" stroke="#231f20" stroke-width="0.3">33</text>
<text transform="translate(164.25,489.50) scale(0.869,1)" font-size="14" text-anchor="middle" fill="#231f20" stroke="#231f20" stroke-width="0.3">94</text>
<text transform="translate(187.00,489.50) scale(0.869,1)" font-size="14" text-anchor="middle" fill="#231f20" stroke="#231f20" stroke-width="0.3">114</text>
<text transform="translate(212.00,489.50) scale(0.869,1)" font-size="14" text-anchor="middle" fill="#231f20" stroke="#231f20" stroke-width="0.3">89</text>
<text transform="translate(237.85,489.50) scale(0.869,1)" font-size="14" text-anchor="middle" fill="#231f20" stroke="#231f20" stroke-width="0.3">1/4</text>
<text transform="translate(263.05,489.50) scale(0.869,1)" font-size="14" text-anchor="middle" fill="#231f20" stroke="#231f20" stroke-width="0.3">14</text>
<text transform="translate(285.45,489.50) scale(0.869,1)" font-size="14" text-anchor="middle" fill="#231f20" stroke="#231f20" stroke-width="0.3">16</text>
<text transform="translate(308.30,489.50) scale(0.869,1)" font-size="14" text-anchor="middle" fill="#231f20" stroke="#231f20" stroke-width="0.3">20</text>
<text transform="translate(334.50,489.50) scale(0.869,1)" font-size="14" text-anchor="middle" fill="#231f20" stroke="#231f20" stroke-width="0.3">24</text>
<text transform="translate(374.95,489.50) scale(0.869,1)" font-size="14" text-anchor="middle" fill="#231f20" stroke="#231f20" stroke-width="0.3">M27x3.0</text>
<text transform="translate(403.30,489.50) scale(0.869,1)" font-size="14" text-anchor="start" fill="#231f20" stroke="#231f20" stroke-width="0.3">67</text>
<path d="M420.20,489.50 L428.80,489.50 L424.50,481.20 Z" fill="#231f20"/>
<text transform="translate(429.40,489.50) scale(0.869,1)" font-size="14" text-anchor="start" fill="#231f20" stroke="#231f20" stroke-width="0.3">84</text>
<text transform="translate(458.15,489.50) scale(0.869,1)" font-size="14" text-anchor="middle" fill="#231f20" stroke="#231f20" stroke-width="0.3">42</text>
<text transform="translate(482.85,489.50) scale(0.869,1)" font-size="14" text-anchor="middle" fill="#231f20" stroke="#231f20" stroke-width="0.3">35</text>
<text transform="translate(507.75,489.50) scale(0.869,1)" font-size="14" text-anchor="middle" fill="#231f20" stroke="#231f20" stroke-width="0.3">15</text>
<text transform="translate(529.45,489.50) scale(0.869,1)" font-size="14" text-anchor="middle" fill="#231f20" stroke="#231f20" stroke-width="0.3">13</text>
<text transform="translate(550.75,489.50) scale(0.869,1)" font-size="14" text-anchor="middle" fill="#231f20" stroke="#231f20" stroke-width="0.3">32</text>
<text transform="translate(572.35,489.50) scale(0.869,1)" font-size="14" text-anchor="middle" fill="#231f20" stroke="#231f20" stroke-width="0.3">4</text>
<text transform="translate(593.80,489.50) scale(0.869,1)" font-size="14" text-anchor="middle" fill="#231f20" stroke="#231f20" stroke-width="0.3">90</text>
<text transform="translate(615.00,489.50) scale(0.869,1)" font-size="14" text-anchor="middle" fill="#231f20" stroke="#231f20" stroke-width="0.3">69</text>
<text transform="translate(636.75,489.50) scale(0.869,1)" font-size="14" text-anchor="middle" fill="#231f20" stroke="#231f20" stroke-width="0.3">16</text>
<text transform="translate(659.30,489.50) scale(0.869,1)" font-size="14" text-anchor="middle" fill="#231f20" stroke="#231f20" stroke-width="0.3">31</text>
<text transform="translate(681.90,489.50) scale(0.869,1)" font-size="14" text-anchor="middle" fill="#231f20" stroke="#231f20" stroke-width="0.3">13</text>
<text transform="translate(703.45,489.50) scale(0.869,1)" font-size="14" text-anchor="middle" fill="#231f20" stroke="#231f20" stroke-width="0.3">30</text>
<text transform="translate(717.60,489.50) scale(0.869,1)" font-size="14" text-anchor="start" fill="#231f20" stroke="#231f20" stroke-width="0.3">80</text>
<path d="M738.60,489.50 L748.00,489.50 L743.30,481.20 Z" fill="#231f20"/>
<text transform="translate(748.40,489.50) scale(0.869,1)" font-size="14" text-anchor="start" fill="#231f20" stroke="#231f20" stroke-width="0.3">97</text>
<text transform="translate(33.80,507.55) scale(0.869,1)" font-size="14" text-anchor="middle" fill="#231f20" stroke="#231f20" stroke-width="0.3">Φ80</text>
<text transform="translate(63.55,507.55) scale(0.869,1)" font-size="14" text-anchor="middle" fill="#231f20" stroke="#231f20" stroke-width="0.3">33</text>
<text transform="translate(88.10,507.55) scale(0.869,1)" font-size="14" text-anchor="middle" fill="#231f20" stroke="#231f20" stroke-width="0.3">15.2</text>
<text transform="translate(116.05,507.55) scale(0.869,1)" font-size="14" text-anchor="middle" fill="#231f20" stroke="#231f20" stroke-width="0.3">15</text>
<text transform="translate(142.00,507.55) scale(0.869,1)" font-size="14" text-anchor="middle" fill="#231f20" stroke="#231f20" stroke-width="0.3">37</text>
<text transform="translate(164.25,507.55) scale(0.869,1)" font-size="14" text-anchor="middle" fill="#231f20" stroke="#231f20" stroke-width="0.3">114</text>
<text transform="translate(187.00,507.55) scale(0.869,1)" font-size="14" text-anchor="middle" fill="#231f20" stroke="#231f20" stroke-width="0.3">134</text>
<text transform="translate(212.00,507.55) scale(0.869,1)" font-size="14" text-anchor="middle" fill="#231f20" stroke="#231f20" stroke-width="0.3">109</text>
<text transform="translate(237.85,507.55) scale(0.869,1)" font-size="14" text-anchor="middle" fill="#231f20" stroke="#231f20" stroke-width="0.3">3/8</text>
<text transform="translate(263.05,507.55) scale(0.869,1)" font-size="14" text-anchor="middle" fill="#231f20" stroke="#231f20" stroke-width="0.3">16</text>
<text transform="translate(285.45,507.55) scale(0.869,1)" font-size="14" text-anchor="middle" fill="#231f20" stroke="#231f20" stroke-width="0.3">16</text>
<text transform="translate(308.30,507.55) scale(0.869,1)" font-size="14" text-anchor="middle" fill="#231f20" stroke="#231f20" stroke-width="0.3">23</text>
<text transform="translate(334.50,507.55) scale(0.869,1)" font-size="14" text-anchor="middle" fill="#231f20" stroke="#231f20" stroke-width="0.3">23</text>
<text transform="translate(374.95,507.55) scale(0.869,1)" font-size="14" text-anchor="middle" fill="#231f20" stroke="#231f20" stroke-width="0.3">M30x3.5</text>
<text transform="translate(403.30,507.55) scale(0.869,1)" font-size="14" text-anchor="start" fill="#231f20" stroke="#231f20" stroke-width="0.3">78</text>
<path d="M420.20,507.55 L428.80,507.55 L424.50,499.25 Z" fill="#231f20"/>
<text transform="translate(429.40,507.55) scale(0.869,1)" font-size="14" text-anchor="start" fill="#231f20" stroke="#231f20" stroke-width="0.3">95</text>
<text transform="translate(458.15,507.55) scale(0.869,1)" font-size="14" text-anchor="middle" fill="#231f20" stroke="#231f20" stroke-width="0.3">52</text>
<text transform="translate(482.85,507.55) scale(0.869,1)" font-size="14" text-anchor="middle" fill="#231f20" stroke="#231f20" stroke-width="0.3">40</text>
<text transform="translate(507.75,507.55) scale(0.869,1)" font-size="14" text-anchor="middle" fill="#231f20" stroke="#231f20" stroke-width="0.3">15</text>
<text transform="translate(529.45,507.55) scale(0.869,1)" font-size="14" text-anchor="middle" fill="#231f20" stroke="#231f20" stroke-width="0.3">18</text>
<text transform="translate(550.75,507.55) scale(0.869,1)" font-size="14" text-anchor="middle" fill="#231f20" stroke="#231f20" stroke-width="0.3">41</text>
<text transform="translate(572.35,507.55) scale(0.869,1)" font-size="14" text-anchor="middle" fill="#231f20" stroke="#231f20" stroke-width="0.3">4</text>
<text transform="translate(593.80,507.55) scale(0.813,1)" font-size="14" text-anchor="middle" fill="#231f20" stroke="#231f20" stroke-width="0.3">110</text>
<text transform="translate(615.00,507.55) scale(0.869,1)" font-size="14" text-anchor="middle" fill="#231f20" stroke="#231f20" stroke-width="0.3">86</text>
<text transform="translate(636.75,507.55) scale(0.869,1)" font-size="14" text-anchor="middle" fill="#231f20" stroke="#231f20" stroke-width="0.3">16</text>
<text transform="translate(659.30,507.55) scale(0.869,1)" font-size="14" text-anchor="middle" fill="#231f20" stroke="#231f20" stroke-width="0.3">34</text>
<text transform="translate(681.90,507.55) scale(0.869,1)" font-size="14" text-anchor="middle" fill="#231f20" stroke="#231f20" stroke-width="0.3">17</text>
<text transform="translate(703.45,507.55) scale(0.869,1)" font-size="14" text-anchor="middle" fill="#231f20" stroke="#231f20" stroke-width="0.3">35</text>
<text transform="translate(717.60,507.55) scale(0.869,1)" font-size="14" text-anchor="start" fill="#231f20" stroke="#231f20" stroke-width="0.3">95</text>
<path d="M738.60,507.55 L748.00,507.55 L743.30,499.25 Z" fill="#231f20"/>
<text transform="translate(748.40,507.55) scale(0.822,1)" font-size="14" text-anchor="start" fill="#231f20" stroke="#231f20" stroke-width="0.3">112</text>
<text transform="translate(33.80,524.95) scale(0.869,1)" font-size="14" text-anchor="middle" fill="#231f20" stroke="#231f20" stroke-width="0.3">Φ100</text>
<text transform="translate(63.55,524.95) scale(0.869,1)" font-size="14" text-anchor="middle" fill="#231f20" stroke="#231f20" stroke-width="0.3">40</text>
<text transform="translate(88.10,524.95) scale(0.869,1)" font-size="14" text-anchor="middle" fill="#231f20" stroke="#231f20" stroke-width="0.3">17.5</text>
<text transform="translate(116.05,524.95) scale(0.869,1)" font-size="14" text-anchor="middle" fill="#231f20" stroke="#231f20" stroke-width="0.3">17</text>
<text transform="translate(142.00,524.95) scale(0.869,1)" font-size="14" text-anchor="middle" fill="#231f20" stroke="#231f20" stroke-width="0.3">50</text>
<text transform="translate(164.25,524.95) scale(0.869,1)" font-size="14" text-anchor="middle" fill="#231f20" stroke="#231f20" stroke-width="0.3">134</text>
<text transform="translate(187.00,524.95) scale(0.869,1)" font-size="14" text-anchor="middle" fill="#231f20" stroke="#231f20" stroke-width="0.3">160</text>
<text transform="translate(212.00,524.95) scale(0.869,1)" font-size="14" text-anchor="middle" fill="#231f20" stroke="#231f20" stroke-width="0.3">129</text>
<text transform="translate(237.85,524.95) scale(0.869,1)" font-size="14" text-anchor="middle" fill="#231f20" stroke="#231f20" stroke-width="0.3">3/8</text>
<text transform="translate(263.05,524.95) scale(0.869,1)" font-size="14" text-anchor="middle" fill="#231f20" stroke="#231f20" stroke-width="0.3">18</text>
<text transform="translate(285.45,524.95) scale(0.869,1)" font-size="14" text-anchor="middle" fill="#231f20" stroke="#231f20" stroke-width="0.3">18</text>
<text transform="translate(308.30,524.95) scale(0.869,1)" font-size="14" text-anchor="middle" fill="#231f20" stroke="#231f20" stroke-width="0.3">26</text>
<text transform="translate(334.50,524.95) scale(0.869,1)" font-size="14" text-anchor="middle" fill="#231f20" stroke="#231f20" stroke-width="0.3">26</text>
<text transform="translate(374.95,524.95) scale(0.869,1)" font-size="14" text-anchor="middle" fill="#231f20" stroke="#231f20" stroke-width="0.3">M36x4.0</text>
<text transform="translate(403.30,524.95) scale(0.869,1)" font-size="14" text-anchor="start" fill="#231f20" stroke="#231f20" stroke-width="0.3">88</text>
<path d="M420.20,524.95 L428.80,524.95 L424.50,516.65 Z" fill="#231f20"/>
<text transform="translate(429.40,524.95) scale(0.753,1)" font-size="14" text-anchor="start" fill="#231f20" stroke="#231f20" stroke-width="0.3">100</text>
<text transform="translate(458.15,524.95) scale(0.869,1)" font-size="14" text-anchor="middle" fill="#231f20" stroke="#231f20" stroke-width="0.3">62</text>
<text transform="translate(482.85,524.95) scale(0.869,1)" font-size="14" text-anchor="middle" fill="#231f20" stroke="#231f20" stroke-width="0.3">55</text>
<text transform="translate(507.75,524.95) scale(0.869,1)" font-size="14" text-anchor="middle" fill="#231f20" stroke="#231f20" stroke-width="0.3">15</text>
<text transform="translate(529.45,524.95) scale(0.869,1)" font-size="14" text-anchor="middle" fill="#231f20" stroke="#231f20" stroke-width="0.3">18</text>
<text transform="translate(550.75,524.95) scale(0.869,1)" font-size="14" text-anchor="middle" fill="#231f20" stroke="#231f20" stroke-width="0.3">44</text>
<text transform="translate(572.35,524.95) scale(0.869,1)" font-size="14" text-anchor="middle" fill="#231f20" stroke="#231f20" stroke-width="0.3">5</text>
<text transform="translate(593.80,524.95) scale(0.813,1)" font-size="14" text-anchor="middle" fill="#231f20" stroke="#231f20" stroke-width="0.3">134</text>
<text transform="translate(615.00,524.95) scale(0.869,1)" font-size="14" text-anchor="middle" fill="#231f20" stroke="#231f20" stroke-width="0.3">102</text>
<text transform="translate(636.75,524.95) scale(0.869,1)" font-size="14" text-anchor="middle" fill="#231f20" stroke="#231f20" stroke-width="0.3">16</text>
<text transform="translate(659.30,524.95) scale(0.869,1)" font-size="14" text-anchor="middle" fill="#231f20" stroke="#231f20" stroke-width="0.3">34</text>
<text transform="translate(681.90,524.95) scale(0.869,1)" font-size="14" text-anchor="middle" fill="#231f20" stroke="#231f20" stroke-width="0.3">17</text>
<text transform="translate(703.45,524.95) scale(0.869,1)" font-size="14" text-anchor="middle" fill="#231f20" stroke="#231f20" stroke-width="0.3">39</text>
<text transform="translate(715.40,524.95) scale(0.869,1)" font-size="14" text-anchor="start" fill="#231f20" stroke="#231f20" stroke-width="0.3">105</text>
<path d="M738.60,524.95 L748.00,524.95 L743.30,516.65 Z" fill="#231f20"/>
<text transform="translate(748.40,524.95) scale(0.822,1)" font-size="14" text-anchor="start" fill="#231f20" stroke="#231f20" stroke-width="0.3">117</text>
<g fill="none" stroke="#231f20" stroke-width="1.250" stroke-linecap="square" stroke-linejoin="miter"><path transform="translate(22.20,352.40) scale(1.1200,0.9600)" d="M1.6,0 L0.5,2.6 M1,1.5 H4.5 M0.3,4.2 H4.8 M2.5,1.5 V8.6 M0.8,6.2 V9.5 H4.3 V6.2 M5.5,1.5 H9.5 M7.5,1.5 V9.1 M5,9.1 H10" vector-effect="non-scaling-stroke"/><path transform="translate(34.20,352.40) scale(1.1200,0.9600)" d="M2.3,0 L0.2,2.6 M2.5,3.2 L0.2,5.6 M1.3,4.3 V10 M3.8,0.9 H9 L4,5 M5.5,2.2 L9.8,5 M4,6.9 H9.5 M6.8,5.3 V9.6 M3.5,9.6 H10" vector-effect="non-scaling-stroke"/></g>
<g fill="none" stroke="#231f20" stroke-width="1.200" stroke-linecap="square" stroke-linejoin="miter"><path transform="translate(15.00,542.40) scale(1.1400,1.1400)" d="M1,1 L2,2 M0.5,4 L1.6,5 M0.4,9.6 L2,6.6 M5.8,0.2 L6.8,1.3 M3.6,2.6 H9.6 M6.6,2.6 V9.3 M4,5.9 H9.2 M3.2,9.3 H10" vector-effect="non-scaling-stroke"/></g>
<rect x="32.3" y="545.6" width="1.9" height="1.9" fill="#231f20"/>
<rect x="32.3" y="551.4" width="1.9" height="1.9" fill="#231f20"/>
<g fill="none" stroke="#231f20" stroke-width="1.200" stroke-linecap="square" stroke-linejoin="miter"><path transform="translate(39.90,542.40) scale(1.1800,1.1800)" d="M0.4,1.5 H9.6 M3,0 V3.3 M7,0 V3.3 M3,3.3 H7 M0.8,6.4 V4.9 H9.2 V6.4 M2.1,9.2 V6.6 H7.9 V8.6 L7.2,8.9 M5,3.6 V10" vector-effect="non-scaling-stroke"/></g>
<path d="M54.0,552.3 H62.5 L58.25,544.9 Z" fill="#231f20"/>
<g fill="none" stroke="#231f20" stroke-width="1.200" stroke-linecap="square" stroke-linejoin="miter"><path transform="translate(64.80,542.40) scale(1.1400,1.1400)" d="M2.1,0 L1.4,1.9 M0.5,2.1 H3.8 V9.5 H0.5 Z M0.5,5.8 H3.8 M6.1,0 L5,3 M5.6,2.2 H9.5 V8.8 Q9.5,9.8 8,9.6 M6,5 L7.1,6.6" vector-effect="non-scaling-stroke"/><path transform="translate(77.42,542.40) scale(1.1400,1.1400)" d="M1.6,0.6 L2.6,2 M0.3,3.5 H8.8 Q8.9,9.9 7,9.6 M4.8,0 Q4.8,7 0.5,9.8 M5.5,6 L6.8,7.3" vector-effect="non-scaling-stroke"/><path transform="translate(90.04,542.40) scale(1.1400,1.1400)" d="M0.4,1.5 H9.6 M3,0 V3.3 M7,0 V3.3 M3,3.3 H7 M0.8,6.4 V4.9 H9.2 V6.4 M2.1,9.2 V6.6 H7.9 V8.6 L7.2,8.9 M5,3.6 V10" vector-effect="non-scaling-stroke"/><path transform="translate(102.66,542.40) scale(1.1400,1.1400)" d="M0,1 H4 M2,1 Q1.6,5 0,7.2 M1,5.1 H3.6 V9.5 H1 Z M5,0 L5.8,1.5 M8.6,0 L7.9,1.5 M4.5,2.1 H10 M6.6,3 L5,5.6 L7,5.5 L5,8.6 L7.3,8.3 M9.1,3 L7.8,5.6 L9.8,5.5 L8,8.6 L10,8.3" vector-effect="non-scaling-stroke"/><path transform="translate(115.28,542.40) scale(1.1400,1.1400)" d="M1,1.6 H9.6 M1,1.6 Q1,5 0,6.8 M7,0 Q7.5,5 10,7 M8.5,0.2 L9.3,0.9 M2.3,3 H5.5 M2.5,4.5 H5 V6 H2.5 Z M9,3.5 L6.5,6.5 M1.1,7.6 L0.3,9.1 M3,7.3 V9.2 Q3,9.8 5,9.8 H7 V9 M4.6,7.4 L5.3,8.2 M8.5,7.6 L9.6,9.1" vector-effect="non-scaling-stroke"/><path transform="translate(127.90,542.40) scale(1.1400,1.1400)" d="M5,0 L5.8,1 M1,1.8 H9.8 M1,1.8 V6 Q1,8.5 0,9.8 M3.5,4 L4.3,7.5 M5.8,3.5 L6.5,7 M8.5,3.5 L7.3,7.8 M2,9.3 H9.8" vector-effect="non-scaling-stroke"/><path transform="translate(140.52,542.40) scale(1.1400,1.1400)" d="M2.2,0 V4 M0.6,0.5 L1.1,1.5 M4,0.5 L3.4,1.5 M0.3,2.2 H4.2 M2.2,2.4 L0.3,4 M2.2,2.4 L4.2,4 M2.6,4.5 L1,7 H4 L0.6,9.8 M1.6,7.6 L4,9.6 M0.3,6 H4.5 M6.2,0 L5,3.5 M5.5,2.2 H10 M9,2.2 Q8,7 5,9.8 M6,4 Q7,7.5 10,9.8" vector-effect="non-scaling-stroke"/><path transform="translate(153.14,542.40) scale(1.1400,1.1400)" d="M2,0 L0,4 M1.3,2.5 V10 M3,1.5 H9.8 M6.3,0 V2.5 M4.5,2.6 H8.3 V8.5 H4.5 Z M4.5,4.6 H8.3 M4.5,6.6 H8.3 M3.3,3 V9.5 H10" vector-effect="non-scaling-stroke"/></g>
<circle cx="166.9" cy="551.6" r="1.6" fill="none" stroke="#231f20" stroke-width="1"/>
<text x="41.6" y="570.4" font-size="10.7" fill="#231f20" stroke="#231f20" stroke-width="0.25">The sizes maked</text>
<path d="M128.2,570.4 H136.9 L132.55,562.9 Z" fill="#231f20"/>
<text x="142.6" y="570.6" font-size="13.8" fill="#231f20" stroke="#231f20" stroke-width="0.3">for cylinder with magnet</text>
</svg>
</body></html>
